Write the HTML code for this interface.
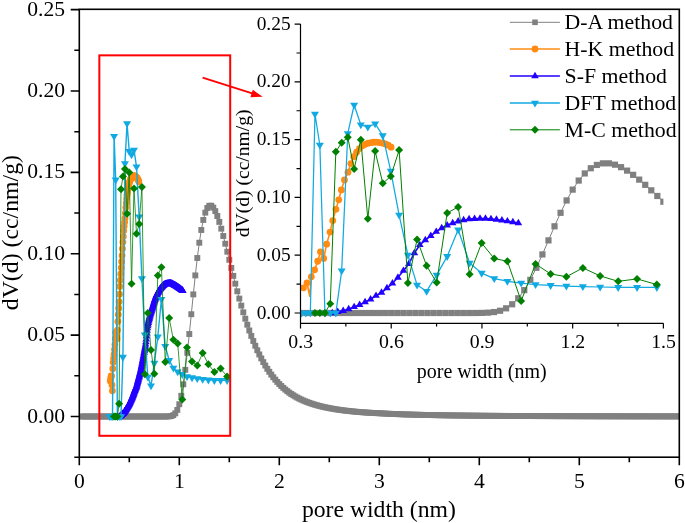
<!DOCTYPE html>
<html><head><meta charset="utf-8"><style>
html,body{margin:0;padding:0;background:#fff;}
body{width:685px;height:523px;overflow:hidden;font-family:"Liberation Serif",serif;}
svg{display:block;will-change:transform;}
</style></head><body>
<svg width="685" height="523" viewBox="0 0 685 523">
<defs><clipPath id="cm"><rect x="80" y="10" width="599" height="446.5"/></clipPath><clipPath id="ci"><rect x="300.5" y="20" width="362.9" height="303"/></clipPath></defs>
<g clip-path="url(#cm)">
<polyline points="81.3,416.5 83.3,416.5 85.3,416.5 87.3,416.5 89.3,416.5 91.3,416.5 93.3,416.5 95.3,416.5 97.3,416.5 99.3,416.5 101.3,416.5 103.3,416.5 105.3,416.5 107.3,416.5 109.3,416.5 111.3,416.5 113.3,416.5 115.3,416.5 117.3,416.5 119.3,416.5 121.3,416.5 123.3,416.5 125.3,416.5 127.3,416.5 129.3,416.5 131.3,416.5 133.3,416.5 135.3,416.5 137.3,416.5 139.3,416.5 141.3,416.5 143.3,416.5 145.3,416.5 147.3,416.5 149.3,416.5 151.3,416.5 153.3,416.5 155.3,416.5 157.3,416.5 159.3,416.5 161.3,416.5 163.3,416.5 165.3,416.49 167.3,416.47 169.3,416.36 171.3,416.03 173.3,415.17 175.3,413.33 177.3,409.9 179.3,404.22 181.3,395.78 183.3,384.3 185.3,369.85 187.3,352.85 189.3,334.02 191.3,314.21 193.3,294.38 195.3,275.39 197.3,257.99 199.3,242.73 201.3,229.99 203.3,219.95 205.3,212.64 207.3,207.97 209.3,205.75 211.3,205.72 213.3,207.62 215.3,211.13 217.3,215.99 219.3,221.91 221.3,228.65 223.3,235.99 225.3,243.73 227.3,251.71 229.3,259.8 231.3,267.88 233.3,275.86 235.3,283.67 237.3,291.26 239.3,298.57 241.3,305.6 243.3,312.31 245.3,318.7 247.3,324.75 249.3,330.48 251.3,335.89 253.3,340.99 255.3,345.77 257.3,350.27 259.3,354.48 261.3,358.42 263.3,362.12 265.3,365.56 267.3,368.79 269.3,371.79 271.3,374.6 273.3,377.22 275.3,379.66 277.3,381.93 279.3,384.05 281.3,386.02 283.3,387.86 285.3,389.57 287.3,391.16 289.3,392.64 291.3,394.01 293.3,395.29 295.3,396.49 297.3,397.6 299.3,398.63 301.3,399.59 303.3,400.49 305.3,401.33 307.3,402.12 309.3,402.85 311.3,403.54 313.3,404.19 315.3,404.79 317.3,405.36 319.3,405.9 321.3,406.4 323.3,406.87 325.3,407.32 327.3,407.74 329.3,408.14 331.3,408.51 333.3,408.86 335.3,409.2 337.3,409.51 339.3,409.81 341.3,410.09 343.3,410.35 345.3,410.6 347.3,410.84 349.3,411.06 351.3,411.27 353.3,411.47 355.3,411.66 357.3,411.84 359.3,412.01 361.3,412.17 363.3,412.32 365.3,412.46 367.3,412.6 369.3,412.72 371.3,412.85 373.3,412.96 375.3,413.07 377.3,413.17 379.3,413.27 381.3,413.38 383.3,413.49 385.3,413.59 387.3,413.69 389.3,413.79 391.3,413.88 393.3,413.96 395.3,414.04 397.3,414.12 399.3,414.2 401.3,414.27 403.3,414.34 405.3,414.41 407.3,414.47 409.3,414.53 411.3,414.59 413.3,414.65 415.3,414.7 417.3,414.75 419.3,414.8 421.3,414.85 423.3,414.9 425.3,414.95 427.3,414.99 429.3,415.03 431.3,415.07 433.3,415.11 435.3,415.15 437.3,415.18 439.3,415.22 441.3,415.25 443.3,415.28 445.3,415.32 447.3,415.35 449.3,415.38 451.3,415.4 453.3,415.43 455.3,415.46 457.3,415.48 459.3,415.51 461.3,415.53 463.3,415.56 465.3,415.58 467.3,415.6 469.3,415.62 471.3,415.64 473.3,415.66 475.3,415.68 477.3,415.7 479.3,415.72 481.3,415.74 483.3,415.76 485.3,415.77 487.3,415.79 489.3,415.8 491.3,415.82 493.3,415.84 495.3,415.85 497.3,415.86 499.3,415.88 501.3,415.89 503.3,415.9 505.3,415.92 507.3,415.93 509.3,415.94 511.3,415.95 513.3,415.97 515.3,415.98 517.3,415.99 519.3,416 521.3,416.01 523.3,416.02 525.3,416.03 527.3,416.04 529.3,416.05 531.3,416.06 533.3,416.07 535.3,416.08 537.3,416.08 539.3,416.09 541.3,416.1 543.3,416.11 545.3,416.12 547.3,416.12 549.3,416.13 551.3,416.14 553.3,416.15 555.3,416.15 557.3,416.16 559.3,416.17 561.3,416.17 563.3,416.18 565.3,416.18 567.3,416.19 569.3,416.2 571.3,416.2 573.3,416.21 575.3,416.21 577.3,416.22 579.3,416.22 581.3,416.23 583.3,416.23 585.3,416.24 587.3,416.24 589.3,416.25 591.3,416.25 593.3,416.26 595.3,416.26 597.3,416.27 599.3,416.27 601.3,416.28 603.3,416.28 605.3,416.28 607.3,416.29 609.3,416.29 611.3,416.3 613.3,416.3 615.3,416.3 617.3,416.31 619.3,416.31 621.3,416.31 623.3,416.32 625.3,416.32 627.3,416.32 629.3,416.33 631.3,416.33 633.3,416.33 635.3,416.34 637.3,416.34 639.3,416.34 641.3,416.34 643.3,416.35 645.3,416.35 647.3,416.35 649.3,416.36 651.3,416.36 653.3,416.36 655.3,416.36 657.3,416.37 659.3,416.37 661.3,416.37 663.3,416.37 665.3,416.37 667.3,416.38 669.3,416.38 671.3,416.38 673.3,416.38 675.3,416.39 677.3,416.39 679.3,416.39" fill="none" stroke="#808080" stroke-width="1" stroke-linejoin="round"/>
<rect x="78.35" y="413.55" width="5.9" height="5.9" fill="#808080"/><rect x="80.35" y="413.55" width="5.9" height="5.9" fill="#808080"/><rect x="82.35" y="413.55" width="5.9" height="5.9" fill="#808080"/><rect x="84.35" y="413.55" width="5.9" height="5.9" fill="#808080"/><rect x="86.35" y="413.55" width="5.9" height="5.9" fill="#808080"/><rect x="88.35" y="413.55" width="5.9" height="5.9" fill="#808080"/><rect x="90.35" y="413.55" width="5.9" height="5.9" fill="#808080"/><rect x="92.35" y="413.55" width="5.9" height="5.9" fill="#808080"/><rect x="94.35" y="413.55" width="5.9" height="5.9" fill="#808080"/><rect x="96.35" y="413.55" width="5.9" height="5.9" fill="#808080"/><rect x="98.35" y="413.55" width="5.9" height="5.9" fill="#808080"/><rect x="100.35" y="413.55" width="5.9" height="5.9" fill="#808080"/><rect x="102.35" y="413.55" width="5.9" height="5.9" fill="#808080"/><rect x="104.35" y="413.55" width="5.9" height="5.9" fill="#808080"/><rect x="106.35" y="413.55" width="5.9" height="5.9" fill="#808080"/><rect x="108.35" y="413.55" width="5.9" height="5.9" fill="#808080"/><rect x="110.35" y="413.55" width="5.9" height="5.9" fill="#808080"/><rect x="112.35" y="413.55" width="5.9" height="5.9" fill="#808080"/><rect x="114.35" y="413.55" width="5.9" height="5.9" fill="#808080"/><rect x="116.35" y="413.55" width="5.9" height="5.9" fill="#808080"/><rect x="118.35" y="413.55" width="5.9" height="5.9" fill="#808080"/><rect x="120.35" y="413.55" width="5.9" height="5.9" fill="#808080"/><rect x="122.35" y="413.55" width="5.9" height="5.9" fill="#808080"/><rect x="124.35" y="413.55" width="5.9" height="5.9" fill="#808080"/><rect x="126.35" y="413.55" width="5.9" height="5.9" fill="#808080"/><rect x="128.35" y="413.55" width="5.9" height="5.9" fill="#808080"/><rect x="130.35" y="413.55" width="5.9" height="5.9" fill="#808080"/><rect x="132.35" y="413.55" width="5.9" height="5.9" fill="#808080"/><rect x="134.35" y="413.55" width="5.9" height="5.9" fill="#808080"/><rect x="136.35" y="413.55" width="5.9" height="5.9" fill="#808080"/><rect x="138.35" y="413.55" width="5.9" height="5.9" fill="#808080"/><rect x="140.35" y="413.55" width="5.9" height="5.9" fill="#808080"/><rect x="142.35" y="413.55" width="5.9" height="5.9" fill="#808080"/><rect x="144.35" y="413.55" width="5.9" height="5.9" fill="#808080"/><rect x="146.35" y="413.55" width="5.9" height="5.9" fill="#808080"/><rect x="148.35" y="413.55" width="5.9" height="5.9" fill="#808080"/><rect x="150.35" y="413.55" width="5.9" height="5.9" fill="#808080"/><rect x="152.35" y="413.55" width="5.9" height="5.9" fill="#808080"/><rect x="154.35" y="413.55" width="5.9" height="5.9" fill="#808080"/><rect x="156.35" y="413.55" width="5.9" height="5.9" fill="#808080"/><rect x="158.35" y="413.55" width="5.9" height="5.9" fill="#808080"/><rect x="160.35" y="413.55" width="5.9" height="5.9" fill="#808080"/><rect x="162.35" y="413.54" width="5.9" height="5.9" fill="#808080"/><rect x="164.35" y="413.52" width="5.9" height="5.9" fill="#808080"/><rect x="166.35" y="413.41" width="5.9" height="5.9" fill="#808080"/><rect x="168.35" y="413.08" width="5.9" height="5.9" fill="#808080"/><rect x="170.35" y="412.22" width="5.9" height="5.9" fill="#808080"/><rect x="172.35" y="410.38" width="5.9" height="5.9" fill="#808080"/><rect x="174.35" y="406.95" width="5.9" height="5.9" fill="#808080"/><rect x="176.35" y="401.27" width="5.9" height="5.9" fill="#808080"/><rect x="178.35" y="392.83" width="5.9" height="5.9" fill="#808080"/><rect x="180.35" y="381.35" width="5.9" height="5.9" fill="#808080"/><rect x="182.35" y="366.9" width="5.9" height="5.9" fill="#808080"/><rect x="184.35" y="349.9" width="5.9" height="5.9" fill="#808080"/><rect x="186.35" y="331.07" width="5.9" height="5.9" fill="#808080"/><rect x="188.35" y="311.26" width="5.9" height="5.9" fill="#808080"/><rect x="190.35" y="291.43" width="5.9" height="5.9" fill="#808080"/><rect x="192.35" y="272.44" width="5.9" height="5.9" fill="#808080"/><rect x="194.35" y="255.04" width="5.9" height="5.9" fill="#808080"/><rect x="196.35" y="239.78" width="5.9" height="5.9" fill="#808080"/><rect x="198.35" y="227.04" width="5.9" height="5.9" fill="#808080"/><rect x="200.35" y="217" width="5.9" height="5.9" fill="#808080"/><rect x="202.35" y="209.69" width="5.9" height="5.9" fill="#808080"/><rect x="204.35" y="205.02" width="5.9" height="5.9" fill="#808080"/><rect x="206.35" y="202.8" width="5.9" height="5.9" fill="#808080"/><rect x="208.35" y="202.77" width="5.9" height="5.9" fill="#808080"/><rect x="210.35" y="204.67" width="5.9" height="5.9" fill="#808080"/><rect x="212.35" y="208.18" width="5.9" height="5.9" fill="#808080"/><rect x="214.35" y="213.04" width="5.9" height="5.9" fill="#808080"/><rect x="216.35" y="218.96" width="5.9" height="5.9" fill="#808080"/><rect x="218.35" y="225.7" width="5.9" height="5.9" fill="#808080"/><rect x="220.35" y="233.04" width="5.9" height="5.9" fill="#808080"/><rect x="222.35" y="240.78" width="5.9" height="5.9" fill="#808080"/><rect x="224.35" y="248.76" width="5.9" height="5.9" fill="#808080"/><rect x="226.35" y="256.85" width="5.9" height="5.9" fill="#808080"/><rect x="228.35" y="264.93" width="5.9" height="5.9" fill="#808080"/><rect x="230.35" y="272.91" width="5.9" height="5.9" fill="#808080"/><rect x="232.35" y="280.72" width="5.9" height="5.9" fill="#808080"/><rect x="234.35" y="288.31" width="5.9" height="5.9" fill="#808080"/><rect x="236.35" y="295.62" width="5.9" height="5.9" fill="#808080"/><rect x="238.35" y="302.65" width="5.9" height="5.9" fill="#808080"/><rect x="240.35" y="309.36" width="5.9" height="5.9" fill="#808080"/><rect x="242.35" y="315.75" width="5.9" height="5.9" fill="#808080"/><rect x="244.35" y="321.8" width="5.9" height="5.9" fill="#808080"/><rect x="246.35" y="327.53" width="5.9" height="5.9" fill="#808080"/><rect x="248.35" y="332.94" width="5.9" height="5.9" fill="#808080"/><rect x="250.35" y="338.04" width="5.9" height="5.9" fill="#808080"/><rect x="252.35" y="342.82" width="5.9" height="5.9" fill="#808080"/><rect x="254.35" y="347.32" width="5.9" height="5.9" fill="#808080"/><rect x="256.35" y="351.53" width="5.9" height="5.9" fill="#808080"/><rect x="258.35" y="355.47" width="5.9" height="5.9" fill="#808080"/><rect x="260.35" y="359.17" width="5.9" height="5.9" fill="#808080"/><rect x="262.35" y="362.61" width="5.9" height="5.9" fill="#808080"/><rect x="264.35" y="365.84" width="5.9" height="5.9" fill="#808080"/><rect x="266.35" y="368.84" width="5.9" height="5.9" fill="#808080"/><rect x="268.35" y="371.65" width="5.9" height="5.9" fill="#808080"/><rect x="270.35" y="374.27" width="5.9" height="5.9" fill="#808080"/><rect x="272.35" y="376.71" width="5.9" height="5.9" fill="#808080"/><rect x="274.35" y="378.98" width="5.9" height="5.9" fill="#808080"/><rect x="276.35" y="381.1" width="5.9" height="5.9" fill="#808080"/><rect x="278.35" y="383.07" width="5.9" height="5.9" fill="#808080"/><rect x="280.35" y="384.91" width="5.9" height="5.9" fill="#808080"/><rect x="282.35" y="386.62" width="5.9" height="5.9" fill="#808080"/><rect x="284.35" y="388.21" width="5.9" height="5.9" fill="#808080"/><rect x="286.35" y="389.69" width="5.9" height="5.9" fill="#808080"/><rect x="288.35" y="391.06" width="5.9" height="5.9" fill="#808080"/><rect x="290.35" y="392.34" width="5.9" height="5.9" fill="#808080"/><rect x="292.35" y="393.54" width="5.9" height="5.9" fill="#808080"/><rect x="294.35" y="394.65" width="5.9" height="5.9" fill="#808080"/><rect x="296.35" y="395.68" width="5.9" height="5.9" fill="#808080"/><rect x="298.35" y="396.64" width="5.9" height="5.9" fill="#808080"/><rect x="300.35" y="397.54" width="5.9" height="5.9" fill="#808080"/><rect x="302.35" y="398.38" width="5.9" height="5.9" fill="#808080"/><rect x="304.35" y="399.17" width="5.9" height="5.9" fill="#808080"/><rect x="306.35" y="399.9" width="5.9" height="5.9" fill="#808080"/><rect x="308.35" y="400.59" width="5.9" height="5.9" fill="#808080"/><rect x="310.35" y="401.24" width="5.9" height="5.9" fill="#808080"/><rect x="312.35" y="401.84" width="5.9" height="5.9" fill="#808080"/><rect x="314.35" y="402.41" width="5.9" height="5.9" fill="#808080"/><rect x="316.35" y="402.95" width="5.9" height="5.9" fill="#808080"/><rect x="318.35" y="403.45" width="5.9" height="5.9" fill="#808080"/><rect x="320.35" y="403.92" width="5.9" height="5.9" fill="#808080"/><rect x="322.35" y="404.37" width="5.9" height="5.9" fill="#808080"/><rect x="324.35" y="404.79" width="5.9" height="5.9" fill="#808080"/><rect x="326.35" y="405.19" width="5.9" height="5.9" fill="#808080"/><rect x="328.35" y="405.56" width="5.9" height="5.9" fill="#808080"/><rect x="330.35" y="405.91" width="5.9" height="5.9" fill="#808080"/><rect x="332.35" y="406.25" width="5.9" height="5.9" fill="#808080"/><rect x="334.35" y="406.56" width="5.9" height="5.9" fill="#808080"/><rect x="336.35" y="406.86" width="5.9" height="5.9" fill="#808080"/><rect x="338.35" y="407.14" width="5.9" height="5.9" fill="#808080"/><rect x="340.35" y="407.4" width="5.9" height="5.9" fill="#808080"/><rect x="342.35" y="407.65" width="5.9" height="5.9" fill="#808080"/><rect x="344.35" y="407.89" width="5.9" height="5.9" fill="#808080"/><rect x="346.35" y="408.11" width="5.9" height="5.9" fill="#808080"/><rect x="348.35" y="408.32" width="5.9" height="5.9" fill="#808080"/><rect x="350.35" y="408.52" width="5.9" height="5.9" fill="#808080"/><rect x="352.35" y="408.71" width="5.9" height="5.9" fill="#808080"/><rect x="354.35" y="408.89" width="5.9" height="5.9" fill="#808080"/><rect x="356.35" y="409.06" width="5.9" height="5.9" fill="#808080"/><rect x="358.35" y="409.22" width="5.9" height="5.9" fill="#808080"/><rect x="360.35" y="409.37" width="5.9" height="5.9" fill="#808080"/><rect x="362.35" y="409.51" width="5.9" height="5.9" fill="#808080"/><rect x="364.35" y="409.65" width="5.9" height="5.9" fill="#808080"/><rect x="366.35" y="409.77" width="5.9" height="5.9" fill="#808080"/><rect x="368.35" y="409.9" width="5.9" height="5.9" fill="#808080"/><rect x="370.35" y="410.01" width="5.9" height="5.9" fill="#808080"/><rect x="372.35" y="410.12" width="5.9" height="5.9" fill="#808080"/><rect x="374.35" y="410.22" width="5.9" height="5.9" fill="#808080"/><rect x="376.35" y="410.32" width="5.9" height="5.9" fill="#808080"/><rect x="378.35" y="410.43" width="5.9" height="5.9" fill="#808080"/><rect x="380.35" y="410.54" width="5.9" height="5.9" fill="#808080"/><rect x="382.35" y="410.64" width="5.9" height="5.9" fill="#808080"/><rect x="384.35" y="410.74" width="5.9" height="5.9" fill="#808080"/><rect x="386.35" y="410.84" width="5.9" height="5.9" fill="#808080"/><rect x="388.35" y="410.93" width="5.9" height="5.9" fill="#808080"/><rect x="390.35" y="411.01" width="5.9" height="5.9" fill="#808080"/><rect x="392.35" y="411.09" width="5.9" height="5.9" fill="#808080"/><rect x="394.35" y="411.17" width="5.9" height="5.9" fill="#808080"/><rect x="396.35" y="411.25" width="5.9" height="5.9" fill="#808080"/><rect x="398.35" y="411.32" width="5.9" height="5.9" fill="#808080"/><rect x="400.35" y="411.39" width="5.9" height="5.9" fill="#808080"/><rect x="402.35" y="411.46" width="5.9" height="5.9" fill="#808080"/><rect x="404.35" y="411.52" width="5.9" height="5.9" fill="#808080"/><rect x="406.35" y="411.58" width="5.9" height="5.9" fill="#808080"/><rect x="408.35" y="411.64" width="5.9" height="5.9" fill="#808080"/><rect x="410.35" y="411.7" width="5.9" height="5.9" fill="#808080"/><rect x="412.35" y="411.75" width="5.9" height="5.9" fill="#808080"/><rect x="414.35" y="411.8" width="5.9" height="5.9" fill="#808080"/><rect x="416.35" y="411.85" width="5.9" height="5.9" fill="#808080"/><rect x="418.35" y="411.9" width="5.9" height="5.9" fill="#808080"/><rect x="420.35" y="411.95" width="5.9" height="5.9" fill="#808080"/><rect x="422.35" y="412" width="5.9" height="5.9" fill="#808080"/><rect x="424.35" y="412.04" width="5.9" height="5.9" fill="#808080"/><rect x="426.35" y="412.08" width="5.9" height="5.9" fill="#808080"/><rect x="428.35" y="412.12" width="5.9" height="5.9" fill="#808080"/><rect x="430.35" y="412.16" width="5.9" height="5.9" fill="#808080"/><rect x="432.35" y="412.2" width="5.9" height="5.9" fill="#808080"/><rect x="434.35" y="412.23" width="5.9" height="5.9" fill="#808080"/><rect x="436.35" y="412.27" width="5.9" height="5.9" fill="#808080"/><rect x="438.35" y="412.3" width="5.9" height="5.9" fill="#808080"/><rect x="440.35" y="412.33" width="5.9" height="5.9" fill="#808080"/><rect x="442.35" y="412.37" width="5.9" height="5.9" fill="#808080"/><rect x="444.35" y="412.4" width="5.9" height="5.9" fill="#808080"/><rect x="446.35" y="412.43" width="5.9" height="5.9" fill="#808080"/><rect x="448.35" y="412.45" width="5.9" height="5.9" fill="#808080"/><rect x="450.35" y="412.48" width="5.9" height="5.9" fill="#808080"/><rect x="452.35" y="412.51" width="5.9" height="5.9" fill="#808080"/><rect x="454.35" y="412.53" width="5.9" height="5.9" fill="#808080"/><rect x="456.35" y="412.56" width="5.9" height="5.9" fill="#808080"/><rect x="458.35" y="412.58" width="5.9" height="5.9" fill="#808080"/><rect x="460.35" y="412.61" width="5.9" height="5.9" fill="#808080"/><rect x="462.35" y="412.63" width="5.9" height="5.9" fill="#808080"/><rect x="464.35" y="412.65" width="5.9" height="5.9" fill="#808080"/><rect x="466.35" y="412.67" width="5.9" height="5.9" fill="#808080"/><rect x="468.35" y="412.69" width="5.9" height="5.9" fill="#808080"/><rect x="470.35" y="412.71" width="5.9" height="5.9" fill="#808080"/><rect x="472.35" y="412.73" width="5.9" height="5.9" fill="#808080"/><rect x="474.35" y="412.75" width="5.9" height="5.9" fill="#808080"/><rect x="476.35" y="412.77" width="5.9" height="5.9" fill="#808080"/><rect x="478.35" y="412.79" width="5.9" height="5.9" fill="#808080"/><rect x="480.35" y="412.81" width="5.9" height="5.9" fill="#808080"/><rect x="482.35" y="412.82" width="5.9" height="5.9" fill="#808080"/><rect x="484.35" y="412.84" width="5.9" height="5.9" fill="#808080"/><rect x="486.35" y="412.85" width="5.9" height="5.9" fill="#808080"/><rect x="488.35" y="412.87" width="5.9" height="5.9" fill="#808080"/><rect x="490.35" y="412.89" width="5.9" height="5.9" fill="#808080"/><rect x="492.35" y="412.9" width="5.9" height="5.9" fill="#808080"/><rect x="494.35" y="412.91" width="5.9" height="5.9" fill="#808080"/><rect x="496.35" y="412.93" width="5.9" height="5.9" fill="#808080"/><rect x="498.35" y="412.94" width="5.9" height="5.9" fill="#808080"/><rect x="500.35" y="412.95" width="5.9" height="5.9" fill="#808080"/><rect x="502.35" y="412.97" width="5.9" height="5.9" fill="#808080"/><rect x="504.35" y="412.98" width="5.9" height="5.9" fill="#808080"/><rect x="506.35" y="412.99" width="5.9" height="5.9" fill="#808080"/><rect x="508.35" y="413" width="5.9" height="5.9" fill="#808080"/><rect x="510.35" y="413.02" width="5.9" height="5.9" fill="#808080"/><rect x="512.35" y="413.03" width="5.9" height="5.9" fill="#808080"/><rect x="514.35" y="413.04" width="5.9" height="5.9" fill="#808080"/><rect x="516.35" y="413.05" width="5.9" height="5.9" fill="#808080"/><rect x="518.35" y="413.06" width="5.9" height="5.9" fill="#808080"/><rect x="520.35" y="413.07" width="5.9" height="5.9" fill="#808080"/><rect x="522.35" y="413.08" width="5.9" height="5.9" fill="#808080"/><rect x="524.35" y="413.09" width="5.9" height="5.9" fill="#808080"/><rect x="526.35" y="413.1" width="5.9" height="5.9" fill="#808080"/><rect x="528.35" y="413.11" width="5.9" height="5.9" fill="#808080"/><rect x="530.35" y="413.12" width="5.9" height="5.9" fill="#808080"/><rect x="532.35" y="413.13" width="5.9" height="5.9" fill="#808080"/><rect x="534.35" y="413.13" width="5.9" height="5.9" fill="#808080"/><rect x="536.35" y="413.14" width="5.9" height="5.9" fill="#808080"/><rect x="538.35" y="413.15" width="5.9" height="5.9" fill="#808080"/><rect x="540.35" y="413.16" width="5.9" height="5.9" fill="#808080"/><rect x="542.35" y="413.17" width="5.9" height="5.9" fill="#808080"/><rect x="544.35" y="413.17" width="5.9" height="5.9" fill="#808080"/><rect x="546.35" y="413.18" width="5.9" height="5.9" fill="#808080"/><rect x="548.35" y="413.19" width="5.9" height="5.9" fill="#808080"/><rect x="550.35" y="413.2" width="5.9" height="5.9" fill="#808080"/><rect x="552.35" y="413.2" width="5.9" height="5.9" fill="#808080"/><rect x="554.35" y="413.21" width="5.9" height="5.9" fill="#808080"/><rect x="556.35" y="413.22" width="5.9" height="5.9" fill="#808080"/><rect x="558.35" y="413.22" width="5.9" height="5.9" fill="#808080"/><rect x="560.35" y="413.23" width="5.9" height="5.9" fill="#808080"/><rect x="562.35" y="413.23" width="5.9" height="5.9" fill="#808080"/><rect x="564.35" y="413.24" width="5.9" height="5.9" fill="#808080"/><rect x="566.35" y="413.25" width="5.9" height="5.9" fill="#808080"/><rect x="568.35" y="413.25" width="5.9" height="5.9" fill="#808080"/><rect x="570.35" y="413.26" width="5.9" height="5.9" fill="#808080"/><rect x="572.35" y="413.26" width="5.9" height="5.9" fill="#808080"/><rect x="574.35" y="413.27" width="5.9" height="5.9" fill="#808080"/><rect x="576.35" y="413.27" width="5.9" height="5.9" fill="#808080"/><rect x="578.35" y="413.28" width="5.9" height="5.9" fill="#808080"/><rect x="580.35" y="413.28" width="5.9" height="5.9" fill="#808080"/><rect x="582.35" y="413.29" width="5.9" height="5.9" fill="#808080"/><rect x="584.35" y="413.29" width="5.9" height="5.9" fill="#808080"/><rect x="586.35" y="413.3" width="5.9" height="5.9" fill="#808080"/><rect x="588.35" y="413.3" width="5.9" height="5.9" fill="#808080"/><rect x="590.35" y="413.31" width="5.9" height="5.9" fill="#808080"/><rect x="592.35" y="413.31" width="5.9" height="5.9" fill="#808080"/><rect x="594.35" y="413.32" width="5.9" height="5.9" fill="#808080"/><rect x="596.35" y="413.32" width="5.9" height="5.9" fill="#808080"/><rect x="598.35" y="413.33" width="5.9" height="5.9" fill="#808080"/><rect x="600.35" y="413.33" width="5.9" height="5.9" fill="#808080"/><rect x="602.35" y="413.33" width="5.9" height="5.9" fill="#808080"/><rect x="604.35" y="413.34" width="5.9" height="5.9" fill="#808080"/><rect x="606.35" y="413.34" width="5.9" height="5.9" fill="#808080"/><rect x="608.35" y="413.35" width="5.9" height="5.9" fill="#808080"/><rect x="610.35" y="413.35" width="5.9" height="5.9" fill="#808080"/><rect x="612.35" y="413.35" width="5.9" height="5.9" fill="#808080"/><rect x="614.35" y="413.36" width="5.9" height="5.9" fill="#808080"/><rect x="616.35" y="413.36" width="5.9" height="5.9" fill="#808080"/><rect x="618.35" y="413.36" width="5.9" height="5.9" fill="#808080"/><rect x="620.35" y="413.37" width="5.9" height="5.9" fill="#808080"/><rect x="622.35" y="413.37" width="5.9" height="5.9" fill="#808080"/><rect x="624.35" y="413.37" width="5.9" height="5.9" fill="#808080"/><rect x="626.35" y="413.38" width="5.9" height="5.9" fill="#808080"/><rect x="628.35" y="413.38" width="5.9" height="5.9" fill="#808080"/><rect x="630.35" y="413.38" width="5.9" height="5.9" fill="#808080"/><rect x="632.35" y="413.39" width="5.9" height="5.9" fill="#808080"/><rect x="634.35" y="413.39" width="5.9" height="5.9" fill="#808080"/><rect x="636.35" y="413.39" width="5.9" height="5.9" fill="#808080"/><rect x="638.35" y="413.39" width="5.9" height="5.9" fill="#808080"/><rect x="640.35" y="413.4" width="5.9" height="5.9" fill="#808080"/><rect x="642.35" y="413.4" width="5.9" height="5.9" fill="#808080"/><rect x="644.35" y="413.4" width="5.9" height="5.9" fill="#808080"/><rect x="646.35" y="413.41" width="5.9" height="5.9" fill="#808080"/><rect x="648.35" y="413.41" width="5.9" height="5.9" fill="#808080"/><rect x="650.35" y="413.41" width="5.9" height="5.9" fill="#808080"/><rect x="652.35" y="413.41" width="5.9" height="5.9" fill="#808080"/><rect x="654.35" y="413.42" width="5.9" height="5.9" fill="#808080"/><rect x="656.35" y="413.42" width="5.9" height="5.9" fill="#808080"/><rect x="658.35" y="413.42" width="5.9" height="5.9" fill="#808080"/><rect x="660.35" y="413.42" width="5.9" height="5.9" fill="#808080"/><rect x="662.35" y="413.42" width="5.9" height="5.9" fill="#808080"/><rect x="664.35" y="413.43" width="5.9" height="5.9" fill="#808080"/><rect x="666.35" y="413.43" width="5.9" height="5.9" fill="#808080"/><rect x="668.35" y="413.43" width="5.9" height="5.9" fill="#808080"/><rect x="670.35" y="413.43" width="5.9" height="5.9" fill="#808080"/><rect x="672.35" y="413.44" width="5.9" height="5.9" fill="#808080"/><rect x="674.35" y="413.44" width="5.9" height="5.9" fill="#808080"/><rect x="676.35" y="413.44" width="5.9" height="5.9" fill="#808080"/>
<polyline points="110.29,381.02 110.71,378.49 111.13,375.95 111.55,376.12 111.97,384.93 112.39,390.8 112.81,368.71 113.23,362.31 113.65,358.52 114.07,354.45 114.49,349.49 114.91,344.53 115.33,338.61 115.75,332.46 116.17,332.79 116.59,336.36 117.01,339.05 117.43,330.22 117.85,321.39 118.27,314.56 118.69,308.27 119.11,301.84 119.53,294.16 119.95,286.48 120.37,280.19 120.79,273.94 121.21,267.79 121.63,261.76 122.05,255.54 122.47,248.7 122.89,242.08 123.31,236.38 123.73,230.67 124.15,226.22 124.57,222.21 124.99,218.2 125.41,212.93 125.83,207.62 126.25,203.06 126.67,198.79 127.09,195.16 127.51,192.32 127.93,189.6 128.35,187.36 128.77,185.11 129.19,183.35 129.61,181.63 130.03,180.45 130.45,179.53 130.87,178.68 131.29,177.91 131.71,177.22 132.13,176.92 132.55,176.63 132.97,176.33 133.39,176.04 133.81,175.93 134.23,175.93 134.65,176.02 135.07,176.26 135.49,176.5 135.91,176.78 136.33,177.07 136.75,177.58 137.17,178.14 137.59,178.83 138.01,179.62 138.43,180.54 138.85,181.78" fill="none" stroke="#ff8b12" stroke-width="1.6" stroke-linejoin="round"/>
<circle cx="110.29" cy="381.02" r="3.4" fill="#ff8b12"/><circle cx="110.71" cy="378.49" r="3.4" fill="#ff8b12"/><circle cx="111.13" cy="375.95" r="3.4" fill="#ff8b12"/><circle cx="111.55" cy="376.12" r="3.4" fill="#ff8b12"/><circle cx="111.97" cy="384.93" r="3.4" fill="#ff8b12"/><circle cx="112.39" cy="390.8" r="3.4" fill="#ff8b12"/><circle cx="112.81" cy="368.71" r="3.4" fill="#ff8b12"/><circle cx="113.23" cy="362.31" r="3.4" fill="#ff8b12"/><circle cx="113.65" cy="358.52" r="3.4" fill="#ff8b12"/><circle cx="114.07" cy="354.45" r="3.4" fill="#ff8b12"/><circle cx="114.49" cy="349.49" r="3.4" fill="#ff8b12"/><circle cx="114.91" cy="344.53" r="3.4" fill="#ff8b12"/><circle cx="115.33" cy="338.61" r="3.4" fill="#ff8b12"/><circle cx="115.75" cy="332.46" r="3.4" fill="#ff8b12"/><circle cx="116.17" cy="332.79" r="3.4" fill="#ff8b12"/><circle cx="116.59" cy="336.36" r="3.4" fill="#ff8b12"/><circle cx="117.01" cy="339.05" r="3.4" fill="#ff8b12"/><circle cx="117.43" cy="330.22" r="3.4" fill="#ff8b12"/><circle cx="117.85" cy="321.39" r="3.4" fill="#ff8b12"/><circle cx="118.27" cy="314.56" r="3.4" fill="#ff8b12"/><circle cx="118.69" cy="308.27" r="3.4" fill="#ff8b12"/><circle cx="119.11" cy="301.84" r="3.4" fill="#ff8b12"/><circle cx="119.53" cy="294.16" r="3.4" fill="#ff8b12"/><circle cx="119.95" cy="286.48" r="3.4" fill="#ff8b12"/><circle cx="120.37" cy="280.19" r="3.4" fill="#ff8b12"/><circle cx="120.79" cy="273.94" r="3.4" fill="#ff8b12"/><circle cx="121.21" cy="267.79" r="3.4" fill="#ff8b12"/><circle cx="121.63" cy="261.76" r="3.4" fill="#ff8b12"/><circle cx="122.05" cy="255.54" r="3.4" fill="#ff8b12"/><circle cx="122.47" cy="248.7" r="3.4" fill="#ff8b12"/><circle cx="122.89" cy="242.08" r="3.4" fill="#ff8b12"/><circle cx="123.31" cy="236.38" r="3.4" fill="#ff8b12"/><circle cx="123.73" cy="230.67" r="3.4" fill="#ff8b12"/><circle cx="124.15" cy="226.22" r="3.4" fill="#ff8b12"/><circle cx="124.57" cy="222.21" r="3.4" fill="#ff8b12"/><circle cx="124.99" cy="218.2" r="3.4" fill="#ff8b12"/><circle cx="125.41" cy="212.93" r="3.4" fill="#ff8b12"/><circle cx="125.83" cy="207.62" r="3.4" fill="#ff8b12"/><circle cx="126.25" cy="203.06" r="3.4" fill="#ff8b12"/><circle cx="126.67" cy="198.79" r="3.4" fill="#ff8b12"/><circle cx="127.09" cy="195.16" r="3.4" fill="#ff8b12"/><circle cx="127.51" cy="192.32" r="3.4" fill="#ff8b12"/><circle cx="127.93" cy="189.6" r="3.4" fill="#ff8b12"/><circle cx="128.35" cy="187.36" r="3.4" fill="#ff8b12"/><circle cx="128.77" cy="185.11" r="3.4" fill="#ff8b12"/><circle cx="129.19" cy="183.35" r="3.4" fill="#ff8b12"/><circle cx="129.61" cy="181.63" r="3.4" fill="#ff8b12"/><circle cx="130.03" cy="180.45" r="3.4" fill="#ff8b12"/><circle cx="130.45" cy="179.53" r="3.4" fill="#ff8b12"/><circle cx="130.87" cy="178.68" r="3.4" fill="#ff8b12"/><circle cx="131.29" cy="177.91" r="3.4" fill="#ff8b12"/><circle cx="131.71" cy="177.22" r="3.4" fill="#ff8b12"/><circle cx="132.13" cy="176.92" r="3.4" fill="#ff8b12"/><circle cx="132.55" cy="176.63" r="3.4" fill="#ff8b12"/><circle cx="132.97" cy="176.33" r="3.4" fill="#ff8b12"/><circle cx="133.39" cy="176.04" r="3.4" fill="#ff8b12"/><circle cx="133.81" cy="175.93" r="3.4" fill="#ff8b12"/><circle cx="134.23" cy="175.93" r="3.4" fill="#ff8b12"/><circle cx="134.65" cy="176.02" r="3.4" fill="#ff8b12"/><circle cx="135.07" cy="176.26" r="3.4" fill="#ff8b12"/><circle cx="135.49" cy="176.5" r="3.4" fill="#ff8b12"/><circle cx="135.91" cy="176.78" r="3.4" fill="#ff8b12"/><circle cx="136.33" cy="177.07" r="3.4" fill="#ff8b12"/><circle cx="136.75" cy="177.58" r="3.4" fill="#ff8b12"/><circle cx="137.17" cy="178.14" r="3.4" fill="#ff8b12"/><circle cx="137.59" cy="178.83" r="3.4" fill="#ff8b12"/><circle cx="138.01" cy="179.62" r="3.4" fill="#ff8b12"/><circle cx="138.43" cy="180.54" r="3.4" fill="#ff8b12"/><circle cx="138.85" cy="181.78" r="3.4" fill="#ff8b12"/>
<polyline points="119.8,416.5 120.1,416.25 120.4,416 120.7,415.74 121,415.48 121.3,415.22 121.6,414.96 121.9,414.7 122.2,414.44 122.5,414.19 122.8,413.93 123.1,413.65 123.4,413.35 123.7,413.02 124,412.65 124.3,412.25 124.6,411.83 124.9,411.39 125.2,410.95 125.5,410.5 125.8,410.04 126.1,409.55 126.4,409.06 126.7,408.56 127,408.05 127.3,407.55 127.6,407.05 127.9,406.56 128.2,406.07 128.5,405.56 128.8,405.04 129.1,404.51 129.4,403.94 129.7,403.33 130,402.7 130.3,402.05 130.6,401.38 130.9,400.71 131.2,400.05 131.5,399.38 131.8,398.71 132.1,398.02 132.4,397.31 132.7,396.57 133,395.8 133.3,394.97 133.6,394.1 133.9,393.23 134.2,392.37 134.5,391.54 134.8,390.77 135.1,390.06 135.4,389.38 135.7,388.69 136,387.96 136.3,387.17 136.6,386.26 136.9,385.25 137.2,384.14 137.5,382.99 137.8,381.81 138.1,380.64 138.4,379.51 138.7,378.41 139,377.33 139.3,376.24 139.6,375.12 139.9,373.95 140.2,372.72 140.5,371.41 140.8,370.04 141.1,368.6 141.4,367.12 141.7,365.62 142,364.09 142.3,362.54 142.6,360.93 142.9,359.29 143.2,357.64 143.5,355.98 143.8,354.33 144.1,352.74 144.4,351.2 144.7,349.65 145,348.04 145.3,346.29 145.6,344.34 145.9,341.98 146.2,339.27 146.5,336.37 146.8,333.44 147.1,330.62 147.4,328.08 147.7,325.99 148,324.34 148.3,322.81 148.6,321.39 148.9,320.06 149.2,318.81 149.5,317.63 149.8,316.51 150.1,315.44 150.4,314.41 150.7,313.41 151,312.43 151.3,311.47 151.6,310.5 151.9,309.52 152.2,308.53 152.5,307.52 152.8,306.52 153.1,305.52 153.4,304.53 153.7,303.55 154,302.59 154.3,301.65 154.6,300.73 154.9,299.84 155.2,298.98 155.5,298.15 155.8,297.36 156.1,296.61 156.4,295.9 156.7,295.24 157,294.61 157.3,293.99 157.6,293.39 157.9,292.8 158.2,292.24 158.5,291.69 158.8,291.16 159.1,290.65 159.4,290.17 159.7,289.71 160,289.27 160.3,288.85 160.6,288.46 160.9,288.1 161.2,287.76 161.5,287.42 161.8,287.09 162.1,286.77 162.4,286.45 162.7,286.15 163,285.85 163.3,285.58 163.6,285.31 163.9,285.07 164.2,284.85 164.5,284.65 164.8,284.48 165.1,284.33 165.4,284.22 165.7,284.12 166,284.04 166.3,283.95 166.6,283.87 166.9,283.79 167.2,283.72 167.5,283.66 167.8,283.59 168.1,283.54 168.4,283.49 168.7,283.45 169,283.42 169.3,283.39 169.6,283.38 169.9,283.37 170.2,283.38 170.5,283.42 170.8,283.48 171.1,283.57 171.4,283.67 171.7,283.79 172,283.92 172.3,284.07 172.6,284.22 172.9,284.38 173.2,284.54 173.5,284.71 173.8,284.87 174.1,285.02 174.4,285.18 174.7,285.33 175,285.49 175.3,285.66 175.6,285.83 175.9,286.02 176.2,286.2 176.5,286.4 176.8,286.59 177.1,286.79 177.4,286.99 177.7,287.2 178,287.4 178.3,287.61 178.6,287.81 178.9,288.02 179.2,288.22 179.5,288.43 179.8,288.64 180.1,288.85 180.4,289.07 180.7,289.29 181,289.51 181.3,289.73 181.6,289.96 181.9,290.19 182.2,290.42 182.5,290.65 182.8,290.88" fill="none" stroke="#2200ff" stroke-width="1.6" stroke-linejoin="round"/>
<path d="M119.8 412.19L123.6 418.65L116 418.65Z" fill="#2200ff"/><path d="M120.1 411.94L123.9 418.4L116.3 418.4Z" fill="#2200ff"/><path d="M120.4 411.69L124.2 418.15L116.6 418.15Z" fill="#2200ff"/><path d="M120.7 411.43L124.5 417.89L116.9 417.89Z" fill="#2200ff"/><path d="M121 411.18L124.8 417.64L117.2 417.64Z" fill="#2200ff"/><path d="M121.3 410.92L125.1 417.38L117.5 417.38Z" fill="#2200ff"/><path d="M121.6 410.65L125.4 417.11L117.8 417.11Z" fill="#2200ff"/><path d="M121.9 410.39L125.7 416.85L118.1 416.85Z" fill="#2200ff"/><path d="M122.2 410.14L126 416.6L118.4 416.6Z" fill="#2200ff"/><path d="M122.5 409.88L126.3 416.34L118.7 416.34Z" fill="#2200ff"/><path d="M122.8 409.62L126.6 416.08L119 416.08Z" fill="#2200ff"/><path d="M123.1 409.35L126.9 415.81L119.3 415.81Z" fill="#2200ff"/><path d="M123.4 409.05L127.2 415.51L119.6 415.51Z" fill="#2200ff"/><path d="M123.7 408.71L127.5 415.17L119.9 415.17Z" fill="#2200ff"/><path d="M124 408.34L127.8 414.8L120.2 414.8Z" fill="#2200ff"/><path d="M124.3 407.94L128.1 414.4L120.5 414.4Z" fill="#2200ff"/><path d="M124.6 407.52L128.4 413.98L120.8 413.98Z" fill="#2200ff"/><path d="M124.9 407.09L128.7 413.55L121.1 413.55Z" fill="#2200ff"/><path d="M125.2 406.64L129 413.1L121.4 413.1Z" fill="#2200ff"/><path d="M125.5 406.2L129.3 412.66L121.7 412.66Z" fill="#2200ff"/><path d="M125.8 405.73L129.6 412.19L122 412.19Z" fill="#2200ff"/><path d="M126.1 405.25L129.9 411.71L122.3 411.71Z" fill="#2200ff"/><path d="M126.4 404.75L130.2 411.21L122.6 411.21Z" fill="#2200ff"/><path d="M126.7 404.25L130.5 410.71L122.9 410.71Z" fill="#2200ff"/><path d="M127 403.74L130.8 410.2L123.2 410.2Z" fill="#2200ff"/><path d="M127.3 403.24L131.1 409.7L123.5 409.7Z" fill="#2200ff"/><path d="M127.6 402.75L131.4 409.21L123.8 409.21Z" fill="#2200ff"/><path d="M127.9 402.25L131.7 408.71L124.1 408.71Z" fill="#2200ff"/><path d="M128.2 401.76L132 408.22L124.4 408.22Z" fill="#2200ff"/><path d="M128.5 401.26L132.3 407.72L124.7 407.72Z" fill="#2200ff"/><path d="M128.8 400.74L132.6 407.2L125 407.2Z" fill="#2200ff"/><path d="M129.1 400.2L132.9 406.66L125.3 406.66Z" fill="#2200ff"/><path d="M129.4 399.63L133.2 406.09L125.6 406.09Z" fill="#2200ff"/><path d="M129.7 399.03L133.5 405.49L125.9 405.49Z" fill="#2200ff"/><path d="M130 398.39L133.8 404.85L126.2 404.85Z" fill="#2200ff"/><path d="M130.3 397.74L134.1 404.2L126.5 404.2Z" fill="#2200ff"/><path d="M130.6 397.07L134.4 403.53L126.8 403.53Z" fill="#2200ff"/><path d="M130.9 396.41L134.7 402.87L127.1 402.87Z" fill="#2200ff"/><path d="M131.2 395.74L135 402.2L127.4 402.2Z" fill="#2200ff"/><path d="M131.5 395.07L135.3 401.53L127.7 401.53Z" fill="#2200ff"/><path d="M131.8 394.4L135.6 400.86L128 400.86Z" fill="#2200ff"/><path d="M132.1 393.71L135.9 400.17L128.3 400.17Z" fill="#2200ff"/><path d="M132.4 393L136.2 399.46L128.6 399.46Z" fill="#2200ff"/><path d="M132.7 392.26L136.5 398.72L128.9 398.72Z" fill="#2200ff"/><path d="M133 391.49L136.8 397.95L129.2 397.95Z" fill="#2200ff"/><path d="M133.3 390.66L137.1 397.12L129.5 397.12Z" fill="#2200ff"/><path d="M133.6 389.8L137.4 396.26L129.8 396.26Z" fill="#2200ff"/><path d="M133.9 388.92L137.7 395.38L130.1 395.38Z" fill="#2200ff"/><path d="M134.2 388.06L138 394.52L130.4 394.52Z" fill="#2200ff"/><path d="M134.5 387.23L138.3 393.69L130.7 393.69Z" fill="#2200ff"/><path d="M134.8 386.46L138.6 392.92L131 392.92Z" fill="#2200ff"/><path d="M135.1 385.75L138.9 392.21L131.3 392.21Z" fill="#2200ff"/><path d="M135.4 385.07L139.2 391.53L131.6 391.53Z" fill="#2200ff"/><path d="M135.7 384.38L139.5 390.84L131.9 390.84Z" fill="#2200ff"/><path d="M136 383.66L139.8 390.12L132.2 390.12Z" fill="#2200ff"/><path d="M136.3 382.86L140.1 389.32L132.5 389.32Z" fill="#2200ff"/><path d="M136.6 381.96L140.4 388.42L132.8 388.42Z" fill="#2200ff"/><path d="M136.9 380.94L140.7 387.4L133.1 387.4Z" fill="#2200ff"/><path d="M137.2 379.84L141 386.3L133.4 386.3Z" fill="#2200ff"/><path d="M137.5 378.68L141.3 385.14L133.7 385.14Z" fill="#2200ff"/><path d="M137.8 377.5L141.6 383.96L134 383.96Z" fill="#2200ff"/><path d="M138.1 376.33L141.9 382.79L134.3 382.79Z" fill="#2200ff"/><path d="M138.4 375.2L142.2 381.66L134.6 381.66Z" fill="#2200ff"/><path d="M138.7 374.11L142.5 380.57L134.9 380.57Z" fill="#2200ff"/><path d="M139 373.02L142.8 379.48L135.2 379.48Z" fill="#2200ff"/><path d="M139.3 371.93L143.1 378.39L135.5 378.39Z" fill="#2200ff"/><path d="M139.6 370.81L143.4 377.27L135.8 377.27Z" fill="#2200ff"/><path d="M139.9 369.64L143.7 376.1L136.1 376.1Z" fill="#2200ff"/><path d="M140.2 368.41L144 374.87L136.4 374.87Z" fill="#2200ff"/><path d="M140.5 367.11L144.3 373.57L136.7 373.57Z" fill="#2200ff"/><path d="M140.8 365.73L144.6 372.19L137 372.19Z" fill="#2200ff"/><path d="M141.1 364.3L144.9 370.76L137.3 370.76Z" fill="#2200ff"/><path d="M141.4 362.82L145.2 369.28L137.6 369.28Z" fill="#2200ff"/><path d="M141.7 361.31L145.5 367.77L137.9 367.77Z" fill="#2200ff"/><path d="M142 359.79L145.8 366.25L138.2 366.25Z" fill="#2200ff"/><path d="M142.3 358.23L146.1 364.69L138.5 364.69Z" fill="#2200ff"/><path d="M142.6 356.63L146.4 363.09L138.8 363.09Z" fill="#2200ff"/><path d="M142.9 354.99L146.7 361.45L139.1 361.45Z" fill="#2200ff"/><path d="M143.2 353.33L147 359.79L139.4 359.79Z" fill="#2200ff"/><path d="M143.5 351.67L147.3 358.13L139.7 358.13Z" fill="#2200ff"/><path d="M143.8 350.02L147.6 356.48L140 356.48Z" fill="#2200ff"/><path d="M144.1 348.43L147.9 354.89L140.3 354.89Z" fill="#2200ff"/><path d="M144.4 346.89L148.2 353.35L140.6 353.35Z" fill="#2200ff"/><path d="M144.7 345.35L148.5 351.81L140.9 351.81Z" fill="#2200ff"/><path d="M145 343.73L148.8 350.19L141.2 350.19Z" fill="#2200ff"/><path d="M145.3 341.98L149.1 348.44L141.5 348.44Z" fill="#2200ff"/><path d="M145.6 340.03L149.4 346.49L141.8 346.49Z" fill="#2200ff"/><path d="M145.9 337.68L149.7 344.14L142.1 344.14Z" fill="#2200ff"/><path d="M146.2 334.97L150 341.43L142.4 341.43Z" fill="#2200ff"/><path d="M146.5 332.07L150.3 338.53L142.7 338.53Z" fill="#2200ff"/><path d="M146.8 329.13L150.6 335.59L143 335.59Z" fill="#2200ff"/><path d="M147.1 326.31L150.9 332.77L143.3 332.77Z" fill="#2200ff"/><path d="M147.4 323.78L151.2 330.24L143.6 330.24Z" fill="#2200ff"/><path d="M147.7 321.68L151.5 328.14L143.9 328.14Z" fill="#2200ff"/><path d="M148 320.03L151.8 326.49L144.2 326.49Z" fill="#2200ff"/><path d="M148.3 318.51L152.1 324.97L144.5 324.97Z" fill="#2200ff"/><path d="M148.6 317.08L152.4 323.54L144.8 323.54Z" fill="#2200ff"/><path d="M148.9 315.75L152.7 322.21L145.1 322.21Z" fill="#2200ff"/><path d="M149.2 314.5L153 320.96L145.4 320.96Z" fill="#2200ff"/><path d="M149.5 313.32L153.3 319.78L145.7 319.78Z" fill="#2200ff"/><path d="M149.8 312.2L153.6 318.66L146 318.66Z" fill="#2200ff"/><path d="M150.1 311.13L153.9 317.59L146.3 317.59Z" fill="#2200ff"/><path d="M150.4 310.1L154.2 316.56L146.6 316.56Z" fill="#2200ff"/><path d="M150.7 309.1L154.5 315.56L146.9 315.56Z" fill="#2200ff"/><path d="M151 308.13L154.8 314.59L147.2 314.59Z" fill="#2200ff"/><path d="M151.3 307.16L155.1 313.62L147.5 313.62Z" fill="#2200ff"/><path d="M151.6 306.19L155.4 312.65L147.8 312.65Z" fill="#2200ff"/><path d="M151.9 305.22L155.7 311.68L148.1 311.68Z" fill="#2200ff"/><path d="M152.2 304.22L156 310.68L148.4 310.68Z" fill="#2200ff"/><path d="M152.5 303.22L156.3 309.68L148.7 309.68Z" fill="#2200ff"/><path d="M152.8 302.21L156.6 308.67L149 308.67Z" fill="#2200ff"/><path d="M153.1 301.21L156.9 307.67L149.3 307.67Z" fill="#2200ff"/><path d="M153.4 300.22L157.2 306.68L149.6 306.68Z" fill="#2200ff"/><path d="M153.7 299.25L157.5 305.71L149.9 305.71Z" fill="#2200ff"/><path d="M154 298.28L157.8 304.74L150.2 304.74Z" fill="#2200ff"/><path d="M154.3 297.34L158.1 303.8L150.5 303.8Z" fill="#2200ff"/><path d="M154.6 296.42L158.4 302.88L150.8 302.88Z" fill="#2200ff"/><path d="M154.9 295.53L158.7 301.99L151.1 301.99Z" fill="#2200ff"/><path d="M155.2 294.67L159 301.13L151.4 301.13Z" fill="#2200ff"/><path d="M155.5 293.84L159.3 300.3L151.7 300.3Z" fill="#2200ff"/><path d="M155.8 293.05L159.6 299.51L152 299.51Z" fill="#2200ff"/><path d="M156.1 292.3L159.9 298.76L152.3 298.76Z" fill="#2200ff"/><path d="M156.4 291.59L160.2 298.05L152.6 298.05Z" fill="#2200ff"/><path d="M156.7 290.94L160.5 297.4L152.9 297.4Z" fill="#2200ff"/><path d="M157 290.3L160.8 296.76L153.2 296.76Z" fill="#2200ff"/><path d="M157.3 289.68L161.1 296.14L153.5 296.14Z" fill="#2200ff"/><path d="M157.6 289.08L161.4 295.54L153.8 295.54Z" fill="#2200ff"/><path d="M157.9 288.5L161.7 294.96L154.1 294.96Z" fill="#2200ff"/><path d="M158.2 287.93L162 294.39L154.4 294.39Z" fill="#2200ff"/><path d="M158.5 287.38L162.3 293.84L154.7 293.84Z" fill="#2200ff"/><path d="M158.8 286.85L162.6 293.31L155 293.31Z" fill="#2200ff"/><path d="M159.1 286.35L162.9 292.81L155.3 292.81Z" fill="#2200ff"/><path d="M159.4 285.86L163.2 292.32L155.6 292.32Z" fill="#2200ff"/><path d="M159.7 285.4L163.5 291.86L155.9 291.86Z" fill="#2200ff"/><path d="M160 284.96L163.8 291.42L156.2 291.42Z" fill="#2200ff"/><path d="M160.3 284.55L164.1 291.01L156.5 291.01Z" fill="#2200ff"/><path d="M160.6 284.16L164.4 290.62L156.8 290.62Z" fill="#2200ff"/><path d="M160.9 283.79L164.7 290.25L157.1 290.25Z" fill="#2200ff"/><path d="M161.2 283.45L165 289.91L157.4 289.91Z" fill="#2200ff"/><path d="M161.5 283.12L165.3 289.58L157.7 289.58Z" fill="#2200ff"/><path d="M161.8 282.79L165.6 289.25L158 289.25Z" fill="#2200ff"/><path d="M162.1 282.46L165.9 288.92L158.3 288.92Z" fill="#2200ff"/><path d="M162.4 282.15L166.2 288.61L158.6 288.61Z" fill="#2200ff"/><path d="M162.7 281.84L166.5 288.3L158.9 288.3Z" fill="#2200ff"/><path d="M163 281.55L166.8 288.01L159.2 288.01Z" fill="#2200ff"/><path d="M163.3 281.27L167.1 287.73L159.5 287.73Z" fill="#2200ff"/><path d="M163.6 281.01L167.4 287.47L159.8 287.47Z" fill="#2200ff"/><path d="M163.9 280.77L167.7 287.23L160.1 287.23Z" fill="#2200ff"/><path d="M164.2 280.54L168 287L160.4 287Z" fill="#2200ff"/><path d="M164.5 280.35L168.3 286.81L160.7 286.81Z" fill="#2200ff"/><path d="M164.8 280.17L168.6 286.63L161 286.63Z" fill="#2200ff"/><path d="M165.1 280.03L168.9 286.49L161.3 286.49Z" fill="#2200ff"/><path d="M165.4 279.91L169.2 286.37L161.6 286.37Z" fill="#2200ff"/><path d="M165.7 279.82L169.5 286.28L161.9 286.28Z" fill="#2200ff"/><path d="M166 279.73L169.8 286.19L162.2 286.19Z" fill="#2200ff"/><path d="M166.3 279.65L170.1 286.11L162.5 286.11Z" fill="#2200ff"/><path d="M166.6 279.56L170.4 286.02L162.8 286.02Z" fill="#2200ff"/><path d="M166.9 279.49L170.7 285.95L163.1 285.95Z" fill="#2200ff"/><path d="M167.2 279.42L171 285.88L163.4 285.88Z" fill="#2200ff"/><path d="M167.5 279.35L171.3 285.81L163.7 285.81Z" fill="#2200ff"/><path d="M167.8 279.29L171.6 285.75L164 285.75Z" fill="#2200ff"/><path d="M168.1 279.23L171.9 285.69L164.3 285.69Z" fill="#2200ff"/><path d="M168.4 279.18L172.2 285.64L164.6 285.64Z" fill="#2200ff"/><path d="M168.7 279.14L172.5 285.6L164.9 285.6Z" fill="#2200ff"/><path d="M169 279.11L172.8 285.57L165.2 285.57Z" fill="#2200ff"/><path d="M169.3 279.09L173.1 285.55L165.5 285.55Z" fill="#2200ff"/><path d="M169.6 279.07L173.4 285.53L165.8 285.53Z" fill="#2200ff"/><path d="M169.9 279.06L173.7 285.52L166.1 285.52Z" fill="#2200ff"/><path d="M170.2 279.08L174 285.54L166.4 285.54Z" fill="#2200ff"/><path d="M170.5 279.11L174.3 285.57L166.7 285.57Z" fill="#2200ff"/><path d="M170.8 279.18L174.6 285.64L167 285.64Z" fill="#2200ff"/><path d="M171.1 279.26L174.9 285.72L167.3 285.72Z" fill="#2200ff"/><path d="M171.4 279.36L175.2 285.82L167.6 285.82Z" fill="#2200ff"/><path d="M171.7 279.48L175.5 285.94L167.9 285.94Z" fill="#2200ff"/><path d="M172 279.62L175.8 286.08L168.2 286.08Z" fill="#2200ff"/><path d="M172.3 279.76L176.1 286.22L168.5 286.22Z" fill="#2200ff"/><path d="M172.6 279.91L176.4 286.37L168.8 286.37Z" fill="#2200ff"/><path d="M172.9 280.07L176.7 286.53L169.1 286.53Z" fill="#2200ff"/><path d="M173.2 280.23L177 286.69L169.4 286.69Z" fill="#2200ff"/><path d="M173.5 280.4L177.3 286.86L169.7 286.86Z" fill="#2200ff"/><path d="M173.8 280.56L177.6 287.02L170 287.02Z" fill="#2200ff"/><path d="M174.1 280.72L177.9 287.18L170.3 287.18Z" fill="#2200ff"/><path d="M174.4 280.87L178.2 287.33L170.6 287.33Z" fill="#2200ff"/><path d="M174.7 281.02L178.5 287.48L170.9 287.48Z" fill="#2200ff"/><path d="M175 281.18L178.8 287.64L171.2 287.64Z" fill="#2200ff"/><path d="M175.3 281.35L179.1 287.81L171.5 287.81Z" fill="#2200ff"/><path d="M175.6 281.53L179.4 287.99L171.8 287.99Z" fill="#2200ff"/><path d="M175.9 281.71L179.7 288.17L172.1 288.17Z" fill="#2200ff"/><path d="M176.2 281.9L180 288.36L172.4 288.36Z" fill="#2200ff"/><path d="M176.5 282.09L180.3 288.55L172.7 288.55Z" fill="#2200ff"/><path d="M176.8 282.29L180.6 288.75L173 288.75Z" fill="#2200ff"/><path d="M177.1 282.49L180.9 288.95L173.3 288.95Z" fill="#2200ff"/><path d="M177.4 282.69L181.2 289.15L173.6 289.15Z" fill="#2200ff"/><path d="M177.7 282.89L181.5 289.35L173.9 289.35Z" fill="#2200ff"/><path d="M178 283.1L181.8 289.56L174.2 289.56Z" fill="#2200ff"/><path d="M178.3 283.3L182.1 289.76L174.5 289.76Z" fill="#2200ff"/><path d="M178.6 283.51L182.4 289.97L174.8 289.97Z" fill="#2200ff"/><path d="M178.9 283.71L182.7 290.17L175.1 290.17Z" fill="#2200ff"/><path d="M179.2 283.91L183 290.37L175.4 290.37Z" fill="#2200ff"/><path d="M179.5 284.12L183.3 290.58L175.7 290.58Z" fill="#2200ff"/><path d="M179.8 284.33L183.6 290.79L176 290.79Z" fill="#2200ff"/><path d="M180.1 284.55L183.9 291.01L176.3 291.01Z" fill="#2200ff"/><path d="M180.4 284.76L184.2 291.22L176.6 291.22Z" fill="#2200ff"/><path d="M180.7 284.98L184.5 291.44L176.9 291.44Z" fill="#2200ff"/><path d="M181 285.2L184.8 291.66L177.2 291.66Z" fill="#2200ff"/><path d="M181.3 285.43L185.1 291.89L177.5 291.89Z" fill="#2200ff"/><path d="M181.6 285.65L185.4 292.11L177.8 292.11Z" fill="#2200ff"/><path d="M181.9 285.88L185.7 292.34L178.1 292.34Z" fill="#2200ff"/><path d="M182.2 286.11L186 292.57L178.4 292.57Z" fill="#2200ff"/><path d="M182.5 286.34L186.3 292.8L178.7 292.8Z" fill="#2200ff"/><path d="M182.8 286.57L186.6 293.03L179 293.03Z" fill="#2200ff"/>
<polyline points="109.68,416.5 111.08,416.5 112.55,416.5 114.09,136.24 115.7,179.86 117.38,416.5 119.14,416.5 120.98,416.5 122.91,357.1 124.93,163.59 127.04,123.55 129.25,151.38 131.56,154.64 133.98,149.92 136.5,166.68 139.15,216.64 141.92,278.49 144.81,334.8 147.84,376.95 151.01,385.74 154.33,363.12 157.8,336.75 161.43,299.16 165.23,346.19 169.2,360.35 173.36,368 177.71,371.74 182.26,374.35 187.03,376.46 192.01,377.6 197.22,378.58 202.68,379.23 208.38,379.88 214.35,380.37 220.6,380.37 227.13,380.37" fill="none" stroke="#10a9e2" stroke-width="1.4" stroke-linejoin="round"/>
<path d="M109.68 421.03L113.68 414.23L105.68 414.23Z" fill="#10a9e2"/><path d="M111.08 421.03L115.08 414.23L107.08 414.23Z" fill="#10a9e2"/><path d="M112.55 421.03L116.55 414.23L108.55 414.23Z" fill="#10a9e2"/><path d="M114.09 140.78L118.09 133.98L110.09 133.98Z" fill="#10a9e2"/><path d="M115.7 184.39L119.7 177.59L111.7 177.59Z" fill="#10a9e2"/><path d="M117.38 421.03L121.38 414.23L113.38 414.23Z" fill="#10a9e2"/><path d="M119.14 421.03L123.14 414.23L115.14 414.23Z" fill="#10a9e2"/><path d="M120.98 421.03L124.98 414.23L116.98 414.23Z" fill="#10a9e2"/><path d="M122.91 361.63L126.91 354.83L118.91 354.83Z" fill="#10a9e2"/><path d="M124.93 168.12L128.93 161.32L120.93 161.32Z" fill="#10a9e2"/><path d="M127.04 128.08L131.04 121.28L123.04 121.28Z" fill="#10a9e2"/><path d="M129.25 155.91L133.25 149.11L125.25 149.11Z" fill="#10a9e2"/><path d="M131.56 159.17L135.56 152.37L127.56 152.37Z" fill="#10a9e2"/><path d="M133.98 154.45L137.98 147.65L129.98 147.65Z" fill="#10a9e2"/><path d="M136.5 171.21L140.5 164.41L132.5 164.41Z" fill="#10a9e2"/><path d="M139.15 221.18L143.15 214.38L135.15 214.38Z" fill="#10a9e2"/><path d="M141.92 283.02L145.92 276.22L137.92 276.22Z" fill="#10a9e2"/><path d="M144.81 339.33L148.81 332.53L140.81 332.53Z" fill="#10a9e2"/><path d="M147.84 381.49L151.84 374.69L143.84 374.69Z" fill="#10a9e2"/><path d="M151.01 390.27L155.01 383.47L147.01 383.47Z" fill="#10a9e2"/><path d="M154.33 367.65L158.33 360.85L150.33 360.85Z" fill="#10a9e2"/><path d="M157.8 341.29L161.8 334.49L153.8 334.49Z" fill="#10a9e2"/><path d="M161.43 303.69L165.43 296.89L157.43 296.89Z" fill="#10a9e2"/><path d="M165.23 350.73L169.23 343.93L161.23 343.93Z" fill="#10a9e2"/><path d="M169.2 364.88L173.2 358.08L165.2 358.08Z" fill="#10a9e2"/><path d="M173.36 372.53L177.36 365.73L169.36 365.73Z" fill="#10a9e2"/><path d="M177.71 376.28L181.71 369.48L173.71 369.48Z" fill="#10a9e2"/><path d="M182.26 378.88L186.26 372.08L178.26 372.08Z" fill="#10a9e2"/><path d="M187.03 381L191.03 374.2L183.03 374.2Z" fill="#10a9e2"/><path d="M192.01 382.14L196.01 375.34L188.01 375.34Z" fill="#10a9e2"/><path d="M197.22 383.11L201.22 376.31L193.22 376.31Z" fill="#10a9e2"/><path d="M202.68 383.76L206.68 376.96L198.68 376.96Z" fill="#10a9e2"/><path d="M208.38 384.41L212.38 377.61L204.38 377.61Z" fill="#10a9e2"/><path d="M214.35 384.9L218.35 378.1L210.35 378.1Z" fill="#10a9e2"/><path d="M220.6 384.9L224.6 378.1L216.6 378.1Z" fill="#10a9e2"/><path d="M227.13 384.9L231.13 378.1L223.13 378.1Z" fill="#10a9e2"/>
<polyline points="114.09,416.5 115.7,416.5 117.38,416.5 119.14,403.64 120.98,189.3 122.91,176.61 124.93,169.12 127.04,213.71 129.25,172.38 131.56,283.86 133.98,188.49 136.5,233.73 139.15,223.97 141.92,187.02 144.81,374.35 147.84,312.99 151.01,350.1 154.33,373.7 157.8,275.56 161.43,267.26 165.23,361.98 169.2,318.04 173.36,339.84 177.71,343.59 182.26,399.57 187.03,347.49 192.01,361.49 197.22,365.4 202.68,353.03 208.38,364.26 214.35,371.91 220.6,368.49 227.13,376.46" fill="none" stroke="#008000" stroke-width="0.8" stroke-linejoin="round"/>
<path d="M114.09 412.5L118.09 416.5L114.09 420.5L110.09 416.5Z" fill="#008000"/><path d="M115.7 412.5L119.7 416.5L115.7 420.5L111.7 416.5Z" fill="#008000"/><path d="M117.38 412.5L121.38 416.5L117.38 420.5L113.38 416.5Z" fill="#008000"/><path d="M119.14 399.64L123.14 403.64L119.14 407.64L115.14 403.64Z" fill="#008000"/><path d="M120.98 185.3L124.98 189.3L120.98 193.3L116.98 189.3Z" fill="#008000"/><path d="M122.91 172.61L126.91 176.61L122.91 180.61L118.91 176.61Z" fill="#008000"/><path d="M124.93 165.12L128.93 169.12L124.93 173.12L120.93 169.12Z" fill="#008000"/><path d="M127.04 209.71L131.04 213.71L127.04 217.71L123.04 213.71Z" fill="#008000"/><path d="M129.25 168.38L133.25 172.38L129.25 176.38L125.25 172.38Z" fill="#008000"/><path d="M131.56 279.86L135.56 283.86L131.56 287.86L127.56 283.86Z" fill="#008000"/><path d="M133.98 184.49L137.98 188.49L133.98 192.49L129.98 188.49Z" fill="#008000"/><path d="M136.5 229.73L140.5 233.73L136.5 237.73L132.5 233.73Z" fill="#008000"/><path d="M139.15 219.97L143.15 223.97L139.15 227.97L135.15 223.97Z" fill="#008000"/><path d="M141.92 183.02L145.92 187.02L141.92 191.02L137.92 187.02Z" fill="#008000"/><path d="M144.81 370.35L148.81 374.35L144.81 378.35L140.81 374.35Z" fill="#008000"/><path d="M147.84 308.99L151.84 312.99L147.84 316.99L143.84 312.99Z" fill="#008000"/><path d="M151.01 346.1L155.01 350.1L151.01 354.1L147.01 350.1Z" fill="#008000"/><path d="M154.33 369.7L158.33 373.7L154.33 377.7L150.33 373.7Z" fill="#008000"/><path d="M157.8 271.56L161.8 275.56L157.8 279.56L153.8 275.56Z" fill="#008000"/><path d="M161.43 263.26L165.43 267.26L161.43 271.26L157.43 267.26Z" fill="#008000"/><path d="M165.23 357.98L169.23 361.98L165.23 365.98L161.23 361.98Z" fill="#008000"/><path d="M169.2 314.04L173.2 318.04L169.2 322.04L165.2 318.04Z" fill="#008000"/><path d="M173.36 335.84L177.36 339.84L173.36 343.84L169.36 339.84Z" fill="#008000"/><path d="M177.71 339.59L181.71 343.59L177.71 347.59L173.71 343.59Z" fill="#008000"/><path d="M182.26 395.57L186.26 399.57L182.26 403.57L178.26 399.57Z" fill="#008000"/><path d="M187.03 343.49L191.03 347.49L187.03 351.49L183.03 347.49Z" fill="#008000"/><path d="M192.01 357.49L196.01 361.49L192.01 365.49L188.01 361.49Z" fill="#008000"/><path d="M197.22 361.4L201.22 365.4L197.22 369.4L193.22 365.4Z" fill="#008000"/><path d="M202.68 349.03L206.68 353.03L202.68 357.03L198.68 353.03Z" fill="#008000"/><path d="M208.38 360.26L212.38 364.26L208.38 368.26L204.38 364.26Z" fill="#008000"/><path d="M214.35 367.91L218.35 371.91L214.35 375.91L210.35 371.91Z" fill="#008000"/><path d="M220.6 364.49L224.6 368.49L220.6 372.49L216.6 368.49Z" fill="#008000"/><path d="M227.13 372.46L231.13 376.46L227.13 380.46L223.13 376.46Z" fill="#008000"/>
</g>
<rect x="79.3" y="9.3" width="600" height="447.9" fill="none" stroke="#000" stroke-width="1.6"/>
<path d="M79.3 457.2V465.2 M129.3 457.2V462.2 M179.3 457.2V465.2 M229.3 457.2V462.2 M279.3 457.2V465.2 M329.3 457.2V462.2 M379.3 457.2V465.2 M429.3 457.2V462.2 M479.3 457.2V465.2 M529.3 457.2V462.2 M579.3 457.2V465.2 M629.3 457.2V462.2 M679.3 457.2V465.2 M70.7 416.5H79.3 M74.3 457.19H79.3 M70.7 335.12H79.3 M74.3 375.81H79.3 M70.7 253.75H79.3 M74.3 294.44H79.3 M70.7 172.37H79.3 M74.3 213.06H79.3 M70.7 91H79.3 M74.3 131.69H79.3 M70.7 9.62H79.3 M74.3 50.31H79.3" stroke="#000" stroke-width="1.6" fill="none"/>
<g font-family="Liberation Serif" font-size="21.6" fill="#000"><text x="65" y="422.6" text-anchor="end">0.00</text><text x="65" y="341.23" text-anchor="end">0.05</text><text x="65" y="259.85" text-anchor="end">0.10</text><text x="65" y="178.47" text-anchor="end">0.15</text><text x="65" y="97.1" text-anchor="end">0.20</text><text x="65" y="15.72" text-anchor="end">0.25</text><text x="79.3" y="487.6" text-anchor="middle">0</text><text x="179.3" y="487.6" text-anchor="middle">1</text><text x="279.3" y="487.6" text-anchor="middle">2</text><text x="379.3" y="487.6" text-anchor="middle">3</text><text x="479.3" y="487.6" text-anchor="middle">4</text><text x="579.3" y="487.6" text-anchor="middle">5</text><text x="679.3" y="487.6" text-anchor="middle">6</text></g>
<text x="378.9" y="516.6" text-anchor="middle" font-family="Liberation Serif" font-size="23.7">pore width (nm)</text>
<text transform="translate(17.5 232.6) rotate(-90)" text-anchor="middle" font-family="Liberation Serif" font-size="23.8">dV(d) (cc/nm/g)</text>
<rect x="99.35" y="55.35" width="130.85" height="380.45" fill="none" stroke="#ff0000" stroke-width="2"/>
<line x1="202.6" y1="77.6" x2="253" y2="93.6" stroke="#ff0000" stroke-width="1.8"/>
<path d="M262.7 96.8L250.4 97.2L252.8 89.8Z" fill="#ff0000"/>
<g clip-path="url(#ci)">
<polyline points="300.5,313 306.55,313 312.6,313 318.64,313 324.69,313 330.74,313 336.79,313 342.84,313 348.88,313 354.93,313 360.98,313 367.03,313 373.08,313 379.12,313 385.17,313 391.22,313 397.27,313 403.32,313 409.36,313 415.41,313 421.46,313 427.51,313 433.56,313 439.6,313 445.65,313 451.7,313 457.75,313 463.8,313 469.84,313 475.89,312.98 481.94,312.9 487.99,312.66 494.04,312.06 500.08,310.75 506.13,308.31 512.18,304.28 518.23,298.29 524.28,290.13 530.32,279.88 536.37,267.81 542.42,254.43 548.47,240.37 554.52,226.29 560.56,212.81 566.61,200.45 572.66,189.61 578.71,180.57 584.76,173.44 590.8,168.25 596.85,164.94 602.9,163.36 608.95,163.34 615,164.68 621.04,167.18 627.09,170.63 633.14,174.83 639.19,179.62 645.24,184.83 651.28,190.33 657.33,195.99 663.38,201.74" fill="none" stroke="#808080" stroke-width="1" stroke-linejoin="round"/>
<rect x="297.4" y="309.9" width="6.2" height="6.2" fill="#808080"/><rect x="303.45" y="309.9" width="6.2" height="6.2" fill="#808080"/><rect x="309.5" y="309.9" width="6.2" height="6.2" fill="#808080"/><rect x="315.54" y="309.9" width="6.2" height="6.2" fill="#808080"/><rect x="321.59" y="309.9" width="6.2" height="6.2" fill="#808080"/><rect x="327.64" y="309.9" width="6.2" height="6.2" fill="#808080"/><rect x="333.69" y="309.9" width="6.2" height="6.2" fill="#808080"/><rect x="339.74" y="309.9" width="6.2" height="6.2" fill="#808080"/><rect x="345.78" y="309.9" width="6.2" height="6.2" fill="#808080"/><rect x="351.83" y="309.9" width="6.2" height="6.2" fill="#808080"/><rect x="357.88" y="309.9" width="6.2" height="6.2" fill="#808080"/><rect x="363.93" y="309.9" width="6.2" height="6.2" fill="#808080"/><rect x="369.98" y="309.9" width="6.2" height="6.2" fill="#808080"/><rect x="376.02" y="309.9" width="6.2" height="6.2" fill="#808080"/><rect x="382.07" y="309.9" width="6.2" height="6.2" fill="#808080"/><rect x="388.12" y="309.9" width="6.2" height="6.2" fill="#808080"/><rect x="394.17" y="309.9" width="6.2" height="6.2" fill="#808080"/><rect x="400.22" y="309.9" width="6.2" height="6.2" fill="#808080"/><rect x="406.26" y="309.9" width="6.2" height="6.2" fill="#808080"/><rect x="412.31" y="309.9" width="6.2" height="6.2" fill="#808080"/><rect x="418.36" y="309.9" width="6.2" height="6.2" fill="#808080"/><rect x="424.41" y="309.9" width="6.2" height="6.2" fill="#808080"/><rect x="430.46" y="309.9" width="6.2" height="6.2" fill="#808080"/><rect x="436.5" y="309.9" width="6.2" height="6.2" fill="#808080"/><rect x="442.55" y="309.9" width="6.2" height="6.2" fill="#808080"/><rect x="448.6" y="309.9" width="6.2" height="6.2" fill="#808080"/><rect x="454.65" y="309.9" width="6.2" height="6.2" fill="#808080"/><rect x="460.7" y="309.9" width="6.2" height="6.2" fill="#808080"/><rect x="466.74" y="309.9" width="6.2" height="6.2" fill="#808080"/><rect x="472.79" y="309.88" width="6.2" height="6.2" fill="#808080"/><rect x="478.84" y="309.8" width="6.2" height="6.2" fill="#808080"/><rect x="484.89" y="309.56" width="6.2" height="6.2" fill="#808080"/><rect x="490.94" y="308.96" width="6.2" height="6.2" fill="#808080"/><rect x="496.98" y="307.65" width="6.2" height="6.2" fill="#808080"/><rect x="503.03" y="305.21" width="6.2" height="6.2" fill="#808080"/><rect x="509.08" y="301.18" width="6.2" height="6.2" fill="#808080"/><rect x="515.13" y="295.19" width="6.2" height="6.2" fill="#808080"/><rect x="521.18" y="287.03" width="6.2" height="6.2" fill="#808080"/><rect x="527.22" y="276.78" width="6.2" height="6.2" fill="#808080"/><rect x="533.27" y="264.71" width="6.2" height="6.2" fill="#808080"/><rect x="539.32" y="251.33" width="6.2" height="6.2" fill="#808080"/><rect x="545.37" y="237.27" width="6.2" height="6.2" fill="#808080"/><rect x="551.42" y="223.19" width="6.2" height="6.2" fill="#808080"/><rect x="557.46" y="209.71" width="6.2" height="6.2" fill="#808080"/><rect x="563.51" y="197.35" width="6.2" height="6.2" fill="#808080"/><rect x="569.56" y="186.51" width="6.2" height="6.2" fill="#808080"/><rect x="575.61" y="177.47" width="6.2" height="6.2" fill="#808080"/><rect x="581.66" y="170.34" width="6.2" height="6.2" fill="#808080"/><rect x="587.7" y="165.15" width="6.2" height="6.2" fill="#808080"/><rect x="593.75" y="161.84" width="6.2" height="6.2" fill="#808080"/><rect x="599.8" y="160.26" width="6.2" height="6.2" fill="#808080"/><rect x="605.85" y="160.24" width="6.2" height="6.2" fill="#808080"/><rect x="611.9" y="161.58" width="6.2" height="6.2" fill="#808080"/><rect x="617.94" y="164.08" width="6.2" height="6.2" fill="#808080"/><rect x="623.99" y="167.53" width="6.2" height="6.2" fill="#808080"/><rect x="630.04" y="171.73" width="6.2" height="6.2" fill="#808080"/><rect x="636.09" y="176.52" width="6.2" height="6.2" fill="#808080"/><rect x="642.14" y="181.73" width="6.2" height="6.2" fill="#808080"/><rect x="648.18" y="187.23" width="6.2" height="6.2" fill="#808080"/><rect x="654.23" y="192.89" width="6.2" height="6.2" fill="#808080"/><rect x="660.28" y="198.64" width="6.2" height="6.2" fill="#808080"/>
<polyline points="303.49,287.81 307,282.84 309.72,296.24 311.3,276.83 314.62,269.78 317.71,261.23 320.43,251.87 323.72,258.46 326.63,244.13 330.04,232.11 332.74,220.55 335.94,209.34 338.75,199.87 341.35,189.93 344.47,179.99 347.98,172.13 350.85,163.61 353.72,156.75 356.6,152.19 359.47,148.59 362.34,145.82 365.21,144.35 368.09,143.13 370.96,142.65 373.83,142.18 376.7,142.19 379.58,142.57 382.45,143.03 385.32,143.92 388.2,145.19 391.07,147.17" fill="none" stroke="#ff8b12" stroke-width="1.6" stroke-linejoin="round"/>
<circle cx="303.49" cy="287.81" r="3.4" fill="#ff8b12"/><circle cx="307" cy="282.84" r="3.4" fill="#ff8b12"/><circle cx="311.3" cy="276.83" r="3.4" fill="#ff8b12"/><circle cx="314.62" cy="269.78" r="3.4" fill="#ff8b12"/><circle cx="317.71" cy="261.23" r="3.4" fill="#ff8b12"/><circle cx="320.43" cy="251.87" r="3.4" fill="#ff8b12"/><circle cx="323.72" cy="258.46" r="3.4" fill="#ff8b12"/><circle cx="326.63" cy="244.13" r="3.4" fill="#ff8b12"/><circle cx="330.04" cy="232.11" r="3.4" fill="#ff8b12"/><circle cx="332.74" cy="220.55" r="3.4" fill="#ff8b12"/><circle cx="335.94" cy="209.34" r="3.4" fill="#ff8b12"/><circle cx="338.75" cy="199.87" r="3.4" fill="#ff8b12"/><circle cx="341.35" cy="189.93" r="3.4" fill="#ff8b12"/><circle cx="344.47" cy="179.99" r="3.4" fill="#ff8b12"/><circle cx="347.98" cy="172.13" r="3.4" fill="#ff8b12"/><circle cx="350.85" cy="163.61" r="3.4" fill="#ff8b12"/><circle cx="353.72" cy="156.75" r="3.4" fill="#ff8b12"/><circle cx="356.6" cy="152.19" r="3.4" fill="#ff8b12"/><circle cx="359.47" cy="148.59" r="3.4" fill="#ff8b12"/><circle cx="362.34" cy="145.82" r="3.4" fill="#ff8b12"/><circle cx="365.21" cy="144.35" r="3.4" fill="#ff8b12"/><circle cx="368.09" cy="143.13" r="3.4" fill="#ff8b12"/><circle cx="370.96" cy="142.65" r="3.4" fill="#ff8b12"/><circle cx="373.83" cy="142.18" r="3.4" fill="#ff8b12"/><circle cx="376.7" cy="142.19" r="3.4" fill="#ff8b12"/><circle cx="379.58" cy="142.57" r="3.4" fill="#ff8b12"/><circle cx="382.45" cy="143.03" r="3.4" fill="#ff8b12"/><circle cx="385.32" cy="143.92" r="3.4" fill="#ff8b12"/><circle cx="388.2" cy="145.19" r="3.4" fill="#ff8b12"/><circle cx="391.07" cy="147.17" r="3.4" fill="#ff8b12"/>
<polyline points="332.25,313 337.73,311.9 343.2,310.75 348.67,309.03 354.15,306.95 359.62,304.8 365.09,302.17 370.57,299.25 376.04,295.7 381.51,292.57 386.99,288.09 392.46,283.32 397.93,277.52 403.41,270.69 408.88,263.82 414.35,253 419.83,244.96 425.3,240.11 430.77,235.91 436.25,231.69 441.72,228.04 447.19,225.29 452.67,223.06 458.14,221.41 463.61,220.08 469.09,219.17 474.56,218.78 480.03,218.53 485.51,218.5 490.98,218.96 496.46,219.65 501.93,220.36 507.4,221.2 512.88,222.08 518.35,223.01" fill="none" stroke="#2200ff" stroke-width="1.6" stroke-linejoin="round"/>
<path d="M332.25 308.69L336.05 315.15L328.45 315.15Z" fill="#2200ff"/><path d="M337.73 307.59L341.53 314.05L333.93 314.05Z" fill="#2200ff"/><path d="M343.2 306.44L347 312.9L339.4 312.9Z" fill="#2200ff"/><path d="M348.67 304.72L352.47 311.18L344.87 311.18Z" fill="#2200ff"/><path d="M354.15 302.65L357.95 309.11L350.35 309.11Z" fill="#2200ff"/><path d="M359.62 300.5L363.42 306.96L355.82 306.96Z" fill="#2200ff"/><path d="M365.09 297.86L368.89 304.32L361.29 304.32Z" fill="#2200ff"/><path d="M370.57 294.94L374.37 301.4L366.77 301.4Z" fill="#2200ff"/><path d="M376.04 291.4L379.84 297.86L372.24 297.86Z" fill="#2200ff"/><path d="M381.51 288.27L385.31 294.73L377.71 294.73Z" fill="#2200ff"/><path d="M386.99 283.78L390.79 290.24L383.19 290.24Z" fill="#2200ff"/><path d="M392.46 279.01L396.26 285.47L388.66 285.47Z" fill="#2200ff"/><path d="M397.93 273.21L401.73 279.67L394.13 279.67Z" fill="#2200ff"/><path d="M403.41 266.39L407.21 272.85L399.61 272.85Z" fill="#2200ff"/><path d="M408.88 259.52L412.68 265.98L405.08 265.98Z" fill="#2200ff"/><path d="M414.35 248.7L418.15 255.16L410.55 255.16Z" fill="#2200ff"/><path d="M419.83 240.65L423.63 247.11L416.03 247.11Z" fill="#2200ff"/><path d="M425.3 235.8L429.1 242.26L421.5 242.26Z" fill="#2200ff"/><path d="M430.77 231.6L434.57 238.06L426.97 238.06Z" fill="#2200ff"/><path d="M436.25 227.39L440.05 233.85L432.45 233.85Z" fill="#2200ff"/><path d="M441.72 223.74L445.52 230.2L437.92 230.2Z" fill="#2200ff"/><path d="M447.19 220.99L450.99 227.45L443.39 227.45Z" fill="#2200ff"/><path d="M452.67 218.75L456.47 225.21L448.87 225.21Z" fill="#2200ff"/><path d="M458.14 217.1L461.94 223.56L454.34 223.56Z" fill="#2200ff"/><path d="M463.61 215.77L467.41 222.23L459.81 222.23Z" fill="#2200ff"/><path d="M469.09 214.86L472.89 221.32L465.29 221.32Z" fill="#2200ff"/><path d="M474.56 214.47L478.36 220.93L470.76 220.93Z" fill="#2200ff"/><path d="M480.03 214.22L483.83 220.68L476.23 220.68Z" fill="#2200ff"/><path d="M485.51 214.2L489.31 220.66L481.71 220.66Z" fill="#2200ff"/><path d="M490.98 214.66L494.78 221.12L487.18 221.12Z" fill="#2200ff"/><path d="M496.46 215.34L500.26 221.8L492.66 221.8Z" fill="#2200ff"/><path d="M501.93 216.05L505.73 222.51L498.13 222.51Z" fill="#2200ff"/><path d="M507.4 216.89L511.2 223.35L503.6 223.35Z" fill="#2200ff"/><path d="M512.88 217.77L516.68 224.23L509.08 224.23Z" fill="#2200ff"/><path d="M518.35 218.7L522.15 225.16L514.55 225.16Z" fill="#2200ff"/>
<polyline points="301.64,313 305.89,313 310.33,313 314.98,114.01 319.85,144.98 324.94,313 330.26,313 335.84,313 341.67,270.82 347.77,133.42 354.15,104.99 360.82,124.75 367.81,127.06 375.12,123.71 382.77,135.62 390.77,171.09 399.14,215.01 407.89,254.99 417.06,284.92 426.64,291.16 436.67,275.1 447.17,256.38 458.15,229.68 469.63,263.08 481.65,273.13 494.23,278.56 507.38,281.22 521.15,283.07 535.55,284.57 550.61,285.38 566.38,286.07 582.87,286.54 600.12,287 618.18,287.35 637.07,287.35 656.83,287.35" fill="none" stroke="#10a9e2" stroke-width="1.25" stroke-linejoin="round"/>
<path d="M301.64 317.53L305.64 310.73L297.64 310.73Z" fill="#10a9e2"/><path d="M305.89 317.53L309.89 310.73L301.89 310.73Z" fill="#10a9e2"/><path d="M310.33 317.53L314.33 310.73L306.33 310.73Z" fill="#10a9e2"/><path d="M314.98 118.54L318.98 111.74L310.98 111.74Z" fill="#10a9e2"/><path d="M319.85 149.51L323.85 142.71L315.85 142.71Z" fill="#10a9e2"/><path d="M324.94 317.53L328.94 310.73L320.94 310.73Z" fill="#10a9e2"/><path d="M330.26 317.53L334.26 310.73L326.26 310.73Z" fill="#10a9e2"/><path d="M335.84 317.53L339.84 310.73L331.84 310.73Z" fill="#10a9e2"/><path d="M341.67 275.35L345.67 268.55L337.67 268.55Z" fill="#10a9e2"/><path d="M347.77 137.95L351.77 131.15L343.77 131.15Z" fill="#10a9e2"/><path d="M354.15 109.53L358.15 102.73L350.15 102.73Z" fill="#10a9e2"/><path d="M360.82 129.29L364.82 122.49L356.82 122.49Z" fill="#10a9e2"/><path d="M367.81 131.6L371.81 124.8L363.81 124.8Z" fill="#10a9e2"/><path d="M375.12 128.25L379.12 121.45L371.12 121.45Z" fill="#10a9e2"/><path d="M382.77 140.15L386.77 133.35L378.77 133.35Z" fill="#10a9e2"/><path d="M390.77 175.63L394.77 168.83L386.77 168.83Z" fill="#10a9e2"/><path d="M399.14 219.54L403.14 212.74L395.14 212.74Z" fill="#10a9e2"/><path d="M407.89 259.52L411.89 252.72L403.89 252.72Z" fill="#10a9e2"/><path d="M417.06 289.45L421.06 282.65L413.06 282.65Z" fill="#10a9e2"/><path d="M426.64 295.69L430.64 288.89L422.64 288.89Z" fill="#10a9e2"/><path d="M436.67 279.63L440.67 272.83L432.67 272.83Z" fill="#10a9e2"/><path d="M447.17 260.91L451.17 254.11L443.17 254.11Z" fill="#10a9e2"/><path d="M458.15 234.21L462.15 227.41L454.15 227.41Z" fill="#10a9e2"/><path d="M469.63 267.61L473.63 260.81L465.63 260.81Z" fill="#10a9e2"/><path d="M481.65 277.67L485.65 270.87L477.65 270.87Z" fill="#10a9e2"/><path d="M494.23 283.1L498.23 276.3L490.23 276.3Z" fill="#10a9e2"/><path d="M507.38 285.75L511.38 278.95L503.38 278.95Z" fill="#10a9e2"/><path d="M521.15 287.6L525.15 280.8L517.15 280.8Z" fill="#10a9e2"/><path d="M535.55 289.11L539.55 282.31L531.55 282.31Z" fill="#10a9e2"/><path d="M550.61 289.91L554.61 283.11L546.61 283.11Z" fill="#10a9e2"/><path d="M566.38 290.61L570.38 283.81L562.38 283.81Z" fill="#10a9e2"/><path d="M582.87 291.07L586.87 284.27L578.87 284.27Z" fill="#10a9e2"/><path d="M600.12 291.53L604.12 284.73L596.12 284.73Z" fill="#10a9e2"/><path d="M618.18 291.88L622.18 285.08L614.18 285.08Z" fill="#10a9e2"/><path d="M637.07 291.88L641.07 285.08L633.07 285.08Z" fill="#10a9e2"/><path d="M656.83 291.88L660.83 285.08L652.83 285.08Z" fill="#10a9e2"/>
<polyline points="314.98,313 319.85,313 324.94,313 330.26,303.87 335.84,151.68 341.67,142.66 347.77,137.35 354.15,169.01 360.82,139.66 367.81,218.82 375.12,151.1 382.77,183.23 390.77,176.29 399.14,150.06 407.89,283.07 417.06,239.5 426.64,265.85 436.67,282.61 447.17,212.93 458.15,207.03 469.63,274.29 481.65,243.09 494.23,258.57 507.38,261.23 521.15,300.98 535.55,264 550.61,273.94 566.38,276.71 582.87,267.93 600.12,275.91 618.18,281.34 637.07,278.91 656.83,284.57" fill="none" stroke="#008000" stroke-width="1" stroke-linejoin="round"/>
<path d="M314.98 309L318.98 313L314.98 317L310.98 313Z" fill="#008000"/><path d="M319.85 309L323.85 313L319.85 317L315.85 313Z" fill="#008000"/><path d="M324.94 309L328.94 313L324.94 317L320.94 313Z" fill="#008000"/><path d="M330.26 299.87L334.26 303.87L330.26 307.87L326.26 303.87Z" fill="#008000"/><path d="M335.84 147.68L339.84 151.68L335.84 155.68L331.84 151.68Z" fill="#008000"/><path d="M341.67 138.66L345.67 142.66L341.67 146.66L337.67 142.66Z" fill="#008000"/><path d="M347.77 133.35L351.77 137.35L347.77 141.35L343.77 137.35Z" fill="#008000"/><path d="M354.15 165.01L358.15 169.01L354.15 173.01L350.15 169.01Z" fill="#008000"/><path d="M360.82 135.66L364.82 139.66L360.82 143.66L356.82 139.66Z" fill="#008000"/><path d="M367.81 214.82L371.81 218.82L367.81 222.82L363.81 218.82Z" fill="#008000"/><path d="M375.12 147.1L379.12 151.1L375.12 155.1L371.12 151.1Z" fill="#008000"/><path d="M382.77 179.23L386.77 183.23L382.77 187.23L378.77 183.23Z" fill="#008000"/><path d="M390.77 172.29L394.77 176.29L390.77 180.29L386.77 176.29Z" fill="#008000"/><path d="M399.14 146.06L403.14 150.06L399.14 154.06L395.14 150.06Z" fill="#008000"/><path d="M407.89 279.07L411.89 283.07L407.89 287.07L403.89 283.07Z" fill="#008000"/><path d="M417.06 235.5L421.06 239.5L417.06 243.5L413.06 239.5Z" fill="#008000"/><path d="M426.64 261.85L430.64 265.85L426.64 269.85L422.64 265.85Z" fill="#008000"/><path d="M436.67 278.61L440.67 282.61L436.67 286.61L432.67 282.61Z" fill="#008000"/><path d="M447.17 208.93L451.17 212.93L447.17 216.93L443.17 212.93Z" fill="#008000"/><path d="M458.15 203.03L462.15 207.03L458.15 211.03L454.15 207.03Z" fill="#008000"/><path d="M469.63 270.29L473.63 274.29L469.63 278.29L465.63 274.29Z" fill="#008000"/><path d="M481.65 239.09L485.65 243.09L481.65 247.09L477.65 243.09Z" fill="#008000"/><path d="M494.23 254.57L498.23 258.57L494.23 262.57L490.23 258.57Z" fill="#008000"/><path d="M507.38 257.23L511.38 261.23L507.38 265.23L503.38 261.23Z" fill="#008000"/><path d="M521.15 296.98L525.15 300.98L521.15 304.98L517.15 300.98Z" fill="#008000"/><path d="M535.55 260L539.55 264L535.55 268L531.55 264Z" fill="#008000"/><path d="M550.61 269.94L554.61 273.94L550.61 277.94L546.61 273.94Z" fill="#008000"/><path d="M566.38 272.71L570.38 276.71L566.38 280.71L562.38 276.71Z" fill="#008000"/><path d="M582.87 263.93L586.87 267.93L582.87 271.93L578.87 267.93Z" fill="#008000"/><path d="M600.12 271.91L604.12 275.91L600.12 279.91L596.12 275.91Z" fill="#008000"/><path d="M618.18 277.34L622.18 281.34L618.18 285.34L614.18 281.34Z" fill="#008000"/><path d="M637.07 274.91L641.07 278.91L637.07 282.91L633.07 278.91Z" fill="#008000"/><path d="M656.83 280.57L660.83 284.57L656.83 288.57L652.83 284.57Z" fill="#008000"/>
</g>
<path d="M300.5 24.1V328.5 M300.5 323.3H663.4 M294.6 313H300.5 M296.5 284.11H300.5 M294.6 255.22H300.5 M296.5 226.33H300.5 M294.6 197.44H300.5 M296.5 168.55H300.5 M294.6 139.66H300.5 M296.5 110.77H300.5 M294.6 81.88H300.5 M296.5 52.99H300.5 M294.6 24.1H300.5 M300.5 323.3V328.6 M345.86 323.3V326.4 M391.22 323.3V328.6 M436.58 323.3V326.4 M481.94 323.3V328.6 M527.3 323.3V326.4 M572.66 323.3V328.6 M618.02 323.3V326.4 M663.38 323.3V328.6" stroke="#000" stroke-width="1.2" fill="none"/>
<g font-family="Liberation Serif" font-size="19.4" fill="#000"><text x="290.6" y="318.55" text-anchor="end">0.00</text><text x="290.6" y="260.77" text-anchor="end">0.05</text><text x="290.6" y="202.99" text-anchor="end">0.10</text><text x="290.6" y="145.21" text-anchor="end">0.15</text><text x="290.6" y="87.43" text-anchor="end">0.20</text><text x="290.6" y="29.65" text-anchor="end">0.25</text><text x="300.7" y="347.6" text-anchor="middle" font-size="19.8">0.3</text><text x="391.42" y="347.6" text-anchor="middle" font-size="19.8">0.6</text><text x="482.14" y="347.6" text-anchor="middle" font-size="19.8">0.9</text><text x="572.86" y="347.6" text-anchor="middle" font-size="19.8">1.2</text><text x="663.58" y="347.6" text-anchor="middle" font-size="19.8">1.5</text></g>
<text x="481.75" y="377.7" text-anchor="middle" font-family="Liberation Serif" font-size="20">pore width (nm)</text>
<text transform="translate(249 173.35) rotate(-90)" text-anchor="middle" font-family="Liberation Serif" font-size="19.6">dV(d) (cc/nm/g)</text>
<line x1="509.8" y1="22.3" x2="559.9" y2="22.3" stroke="#808080" stroke-width="1"/>
<rect x="532.2" y="19.5" width="5.6" height="5.6" fill="#808080"/>
<text x="564.6" y="29.4" font-family="Liberation Serif" font-size="21.8">D-A method</text>
<line x1="509.8" y1="49" x2="559.9" y2="49" stroke="#ff8b12" stroke-width="1.7"/>
<circle cx="535" cy="49" r="3.4" fill="#ff8b12"/>
<text x="564.6" y="56.1" font-family="Liberation Serif" font-size="21.8">H-K method</text>
<line x1="509.8" y1="76" x2="559.9" y2="76" stroke="#2200ff" stroke-width="1.7"/>
<path d="M535 71.69L538.8 78.15L531.2 78.15Z" fill="#2200ff"/>
<text x="564.6" y="83.1" font-family="Liberation Serif" font-size="21.8">S-F method</text>
<line x1="509.8" y1="103" x2="559.9" y2="103" stroke="#10a9e2" stroke-width="1.7"/>
<path d="M535 107.53L539 100.73L531 100.73Z" fill="#10a9e2"/>
<text x="564.6" y="110.1" font-family="Liberation Serif" font-size="21.8">DFT method</text>
<line x1="509.8" y1="129.8" x2="559.9" y2="129.8" stroke="#008000" stroke-width="1"/>
<path d="M535 125.8L539 129.8L535 133.8L531 129.8Z" fill="#008000"/>
<text x="564.6" y="136.9" font-family="Liberation Serif" font-size="21.8">M-C method</text>
</svg>
</body></html>
